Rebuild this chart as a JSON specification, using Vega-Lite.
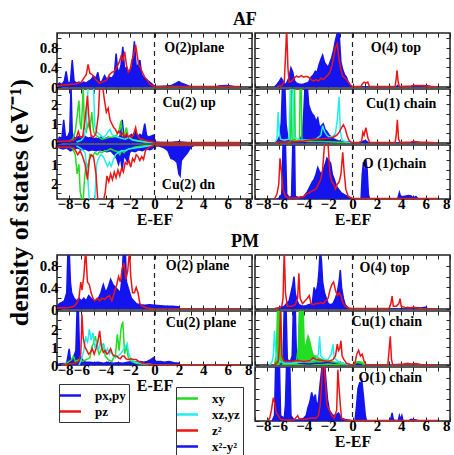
{
"$schema":"https://vega.github.io/schema/vega-lite/v6.json",
"background":"white",
"padding":{"left":6,"top":11,"right":0,"bottom":0},
"spacing":4,
"title":{"text":"density of states (eV⁻¹)","orient":"left","anchor":"middle","fontSize":26,"offset":6,"dx":32},
"config":{
 "font":"Liberation Serif",
 "view":{"stroke":"#222","strokeWidth":1.5},
 "axis":{"domain":false,"grid":false,"tickSize":-4,"tickColor":"#222","tickWidth":1,"labelFont":"Liberation Serif","labelFontWeight":"bold","labelFontSize":15,"labelColor":"black","labelOverlap":false,"titleFont":"Liberation Serif","titleFontWeight":"bold","titleFontSize":16,"titleColor":"black"},
 "axisX":{"labelPadding":1,"titlePadding":0},
 "axisY":{"labelPadding":3},
 "legend":{"labelFont":"Liberation Serif","labelFontWeight":"bold","labelFontSize":13,"labelColor":"black","symbolSize":196,"symbolStrokeWidth":2.5,"labelOffset":16,"rowPadding":0,"strokeColor":"#333","padding":3},
 "title":{"font":"Liberation Serif","fontWeight":"bold","color":"black"}
},
"resolve":{"scale":{"color":"independent"},"legend":{"color":"independent"}},
"datasets":{
"af_o2":[
{"E":-8,"dos":0.02,"orb":"px,py"},{"E":-7.8,"dos":0.08,"orb":"px,py"},{"E":-7.6,"dos":0.05,"orb":"px,py"},{"E":-7.4,"dos":0.12,"orb":"px,py"},{"E":-7.25,"dos":0.32,"orb":"px,py"},{"E":-7.1,"dos":0.08,"orb":"px,py"},{"E":-6.9,"dos":0.1,"orb":"px,py"},{"E":-6.75,"dos":0.55,"orb":"px,py"},{"E":-6.6,"dos":0.12,"orb":"px,py"},{"E":-6.4,"dos":0.08,"orb":"px,py"},{"E":-6.2,"dos":0.1,"orb":"px,py"},{"E":-6,"dos":0.07,"orb":"px,py"},{"E":-5.8,"dos":0.1,"orb":"px,py"},{"E":-5.6,"dos":0.08,"orb":"px,py"},{"E":-5.4,"dos":0.12,"orb":"px,py"},{"E":-5.2,"dos":0.15,"orb":"px,py"},{"E":-5,"dos":0.22,"orb":"px,py"},{"E":-4.8,"dos":0.18,"orb":"px,py"},{"E":-4.65,"dos":0.3,"orb":"px,py"},{"E":-4.5,"dos":0.1,"orb":"px,py"},{"E":-4.3,"dos":0.12,"orb":"px,py"},{"E":-4.1,"dos":0.23,"orb":"px,py"},{"E":-3.9,"dos":0.15,"orb":"px,py"},{"E":-3.7,"dos":0.2,"orb":"px,py"},{"E":-3.5,"dos":0.18,"orb":"px,py"},{"E":-3.3,"dos":0.25,"orb":"px,py"},{"E":-3.15,"dos":0.68,"orb":"px,py"},{"E":-3,"dos":0.3,"orb":"px,py"},{"E":-2.85,"dos":0.35,"orb":"px,py"},{"E":-2.75,"dos":0.45,"orb":"px,py"},{"E":-2.6,"dos":0.82,"orb":"px,py"},{"E":-2.45,"dos":0.35,"orb":"px,py"},{"E":-2.3,"dos":0.4,"orb":"px,py"},{"E":-2.15,"dos":0.3,"orb":"px,py"},{"E":-2,"dos":0.35,"orb":"px,py"},{"E":-1.85,"dos":0.4,"orb":"px,py"},{"E":-1.65,"dos":0.93,"orb":"px,py"},{"E":-1.5,"dos":0.4,"orb":"px,py"},{"E":-1.35,"dos":0.45,"orb":"px,py"},{"E":-1.2,"dos":0.55,"orb":"px,py"},{"E":-1.05,"dos":0.25,"orb":"px,py"},{"E":-0.9,"dos":0.2,"orb":"px,py"},{"E":-0.7,"dos":0.15,"orb":"px,py"},{"E":-0.5,"dos":0.12,"orb":"px,py"},{"E":-0.3,"dos":0.08,"orb":"px,py"},{"E":-0.1,"dos":0.04,"orb":"px,py"},{"E":0.1,"dos":0.01,"orb":"px,py"},{"E":0.5,"dos":0.01,"orb":"px,py"},{"E":1,"dos":0.02,"orb":"px,py"},{"E":1.4,"dos":0.03,"orb":"px,py"},{"E":1.7,"dos":0.07,"orb":"px,py"},{"E":2,"dos":0.11,"orb":"px,py"},{"E":2.2,"dos":0.08,"orb":"px,py"},{"E":2.5,"dos":0.05,"orb":"px,py"},{"E":2.8,"dos":0.02,"orb":"px,py"},{"E":3.2,"dos":0,"orb":"px,py"},{"E":5,"dos":0,"orb":"px,py"},{"E":5.3,"dos":0.02,"orb":"px,py"},{"E":5.8,"dos":0.03,"orb":"px,py"},{"E":6.3,"dos":0.02,"orb":"px,py"},{"E":6.6,"dos":0,"orb":"px,py"},
{"E":-8,"dos":0.02,"orb":"pz"},{"E":-7.5,"dos":0.04,"orb":"pz"},{"E":-7,"dos":0.05,"orb":"pz"},{"E":-6.5,"dos":0.06,"orb":"pz"},{"E":-6.2,"dos":0.08,"orb":"pz"},{"E":-6,"dos":0.1,"orb":"pz"},{"E":-5.8,"dos":0.18,"orb":"pz"},{"E":-5.6,"dos":0.25,"orb":"pz"},{"E":-5.45,"dos":0.46,"orb":"pz"},{"E":-5.3,"dos":0.28,"orb":"pz"},{"E":-5.1,"dos":0.25,"orb":"pz"},{"E":-4.9,"dos":0.18,"orb":"pz"},{"E":-4.7,"dos":0.12,"orb":"pz"},{"E":-4.5,"dos":0.08,"orb":"pz"},{"E":-4.3,"dos":0.1,"orb":"pz"},{"E":-4.1,"dos":0.12,"orb":"pz"},{"E":-3.9,"dos":0.15,"orb":"pz"},{"E":-3.7,"dos":0.25,"orb":"pz"},{"E":-3.5,"dos":0.3,"orb":"pz"},{"E":-3.3,"dos":0.32,"orb":"pz"},{"E":-3.1,"dos":0.4,"orb":"pz"},{"E":-2.9,"dos":0.5,"orb":"pz"},{"E":-2.75,"dos":0.62,"orb":"pz"},{"E":-2.6,"dos":0.55,"orb":"pz"},{"E":-2.45,"dos":0.72,"orb":"pz"},{"E":-2.3,"dos":0.45,"orb":"pz"},{"E":-2.15,"dos":0.3,"orb":"pz"},{"E":-2,"dos":0.35,"orb":"pz"},{"E":-1.85,"dos":0.55,"orb":"pz"},{"E":-1.7,"dos":0.65,"orb":"pz"},{"E":-1.55,"dos":0.86,"orb":"pz"},{"E":-1.45,"dos":0.7,"orb":"pz"},{"E":-1.3,"dos":0.45,"orb":"pz"},{"E":-1.15,"dos":0.4,"orb":"pz"},{"E":-1,"dos":0.3,"orb":"pz"},{"E":-0.8,"dos":0.2,"orb":"pz"},{"E":-0.6,"dos":0.15,"orb":"pz"},{"E":-0.4,"dos":0.06,"orb":"pz"},{"E":-0.2,"dos":0.03,"orb":"pz"},{"E":0,"dos":0.01,"orb":"pz"},{"E":7,"dos":0.01,"orb":"pz"}
],
"af_cu2up":[
{"E":-8,"dos":0.05,"orb":"x²-y²"},{"E":-7.8,"dos":0.3,"orb":"x²-y²"},{"E":-7.6,"dos":0.25,"orb":"x²-y²"},{"E":-7.45,"dos":1.2,"orb":"x²-y²"},{"E":-7.3,"dos":0.3,"orb":"x²-y²"},{"E":-7.1,"dos":0.35,"orb":"x²-y²"},{"E":-6.95,"dos":0.6,"orb":"x²-y²"},{"E":-6.85,"dos":3,"orb":"x²-y²"},{"E":-6.75,"dos":0.5,"orb":"x²-y²"},{"E":-6.6,"dos":0.3,"orb":"x²-y²"},{"E":-6.4,"dos":0.25,"orb":"x²-y²"},{"E":-6.2,"dos":0.35,"orb":"x²-y²"},{"E":-6,"dos":0.3,"orb":"x²-y²"},{"E":-5.8,"dos":0.4,"orb":"x²-y²"},{"E":-5.6,"dos":0.3,"orb":"x²-y²"},{"E":-5.4,"dos":0.25,"orb":"x²-y²"},{"E":-5.2,"dos":0.3,"orb":"x²-y²"},{"E":-5,"dos":0.2,"orb":"x²-y²"},{"E":-4.8,"dos":0.25,"orb":"x²-y²"},{"E":-4.6,"dos":0.2,"orb":"x²-y²"},{"E":-4.4,"dos":0.3,"orb":"x²-y²"},{"E":-4.2,"dos":0.2,"orb":"x²-y²"},{"E":-4,"dos":0.25,"orb":"x²-y²"},{"E":-3.8,"dos":0.3,"orb":"x²-y²"},{"E":-3.6,"dos":0.2,"orb":"x²-y²"},{"E":-3.4,"dos":0.3,"orb":"x²-y²"},{"E":-3.2,"dos":0.35,"orb":"x²-y²"},{"E":-3,"dos":0.25,"orb":"x²-y²"},{"E":-2.8,"dos":0.4,"orb":"x²-y²"},{"E":-2.65,"dos":1.2,"orb":"x²-y²"},{"E":-2.5,"dos":0.3,"orb":"x²-y²"},{"E":-2.3,"dos":0.4,"orb":"x²-y²"},{"E":-2.1,"dos":0.3,"orb":"x²-y²"},{"E":-1.9,"dos":0.45,"orb":"x²-y²"},{"E":-1.7,"dos":0.3,"orb":"x²-y²"},{"E":-1.55,"dos":0.6,"orb":"x²-y²"},{"E":-1.4,"dos":0.3,"orb":"x²-y²"},{"E":-1.2,"dos":0.45,"orb":"x²-y²"},{"E":-1,"dos":0.35,"orb":"x²-y²"},{"E":-0.8,"dos":1,"orb":"x²-y²"},{"E":-0.65,"dos":0.4,"orb":"x²-y²"},{"E":-0.5,"dos":0.3,"orb":"x²-y²"},{"E":-0.3,"dos":0.35,"orb":"x²-y²"},{"E":-0.1,"dos":0.4,"orb":"x²-y²"},{"E":0.05,"dos":0.05,"orb":"x²-y²"},{"E":0.5,"dos":0.02,"orb":"x²-y²"},{"E":1.5,"dos":0.04,"orb":"x²-y²"},{"E":2,"dos":0.06,"orb":"x²-y²"},{"E":2.5,"dos":0.03,"orb":"x²-y²"},{"E":3,"dos":0,"orb":"x²-y²"},
{"E":-7,"dos":0.1,"orb":"xy"},{"E":-6.7,"dos":0.2,"orb":"xy"},{"E":-6.5,"dos":0.6,"orb":"xy"},{"E":-6.35,"dos":1.4,"orb":"xy"},{"E":-6.2,"dos":2.2,"orb":"xy"},{"E":-6.1,"dos":1,"orb":"xy"},{"E":-6,"dos":0.7,"orb":"xy"},{"E":-5.85,"dos":2.9,"orb":"xy"},{"E":-5.75,"dos":0.8,"orb":"xy"},{"E":-5.6,"dos":0.6,"orb":"xy"},{"E":-5.45,"dos":1,"orb":"xy"},{"E":-5.3,"dos":0.7,"orb":"xy"},{"E":-5.15,"dos":1.6,"orb":"xy"},{"E":-5,"dos":0.6,"orb":"xy"},{"E":-4.8,"dos":0.4,"orb":"xy"},{"E":-4.6,"dos":0.3,"orb":"xy"},{"E":-4.3,"dos":0.2,"orb":"xy"},{"E":-4,"dos":0.25,"orb":"xy"},{"E":-3.7,"dos":0.3,"orb":"xy"},{"E":-3.4,"dos":0.3,"orb":"xy"},{"E":-3.1,"dos":0.4,"orb":"xy"},{"E":-2.9,"dos":0.7,"orb":"xy"},{"E":-2.75,"dos":1.15,"orb":"xy"},{"E":-2.6,"dos":0.4,"orb":"xy"},{"E":-2.45,"dos":0.5,"orb":"xy"},{"E":-2.3,"dos":0.8,"orb":"xy"},{"E":-2.15,"dos":0.3,"orb":"xy"},{"E":-1.9,"dos":0.2,"orb":"xy"},{"E":-1.6,"dos":0.15,"orb":"xy"},{"E":-1.2,"dos":0.1,"orb":"xy"},{"E":-0.6,"dos":0.05,"orb":"xy"},{"E":0,"dos":0,"orb":"xy"},
{"E":-6.4,"dos":0.05,"orb":"xz,yz"},{"E":-6,"dos":0.15,"orb":"xz,yz"},{"E":-5.8,"dos":0.3,"orb":"xz,yz"},{"E":-5.6,"dos":0.8,"orb":"xz,yz"},{"E":-5.45,"dos":2.9,"orb":"xz,yz"},{"E":-5.3,"dos":2.9,"orb":"xz,yz"},{"E":-5.15,"dos":2.9,"orb":"xz,yz"},{"E":-5,"dos":2.9,"orb":"xz,yz"},{"E":-4.9,"dos":0.9,"orb":"xz,yz"},{"E":-4.75,"dos":0.6,"orb":"xz,yz"},{"E":-4.6,"dos":0.5,"orb":"xz,yz"},{"E":-4.4,"dos":0.4,"orb":"xz,yz"},{"E":-4.2,"dos":0.3,"orb":"xz,yz"},{"E":-4,"dos":0.4,"orb":"xz,yz"},{"E":-3.8,"dos":0.6,"orb":"xz,yz"},{"E":-3.65,"dos":0.7,"orb":"xz,yz"},{"E":-3.5,"dos":0.45,"orb":"xz,yz"},{"E":-3.3,"dos":0.35,"orb":"xz,yz"},{"E":-3,"dos":0.3,"orb":"xz,yz"},{"E":-2.7,"dos":0.25,"orb":"xz,yz"},{"E":-2.4,"dos":0.2,"orb":"xz,yz"},{"E":-2.1,"dos":0.3,"orb":"xz,yz"},{"E":-1.8,"dos":0.15,"orb":"xz,yz"},{"E":-1.4,"dos":0.1,"orb":"xz,yz"},{"E":-0.8,"dos":0.05,"orb":"xz,yz"},{"E":0,"dos":0,"orb":"xz,yz"},
{"E":-8,"dos":0.08,"orb":"z²"},{"E":-7.5,"dos":0.1,"orb":"z²"},{"E":-7,"dos":0.1,"orb":"z²"},{"E":-6.6,"dos":0.15,"orb":"z²"},{"E":-6.4,"dos":0.3,"orb":"z²"},{"E":-6.25,"dos":0.6,"orb":"z²"},{"E":-6.1,"dos":0.3,"orb":"z²"},{"E":-5.9,"dos":0.3,"orb":"z²"},{"E":-5.7,"dos":1.2,"orb":"z²"},{"E":-5.5,"dos":2.45,"orb":"z²"},{"E":-5.35,"dos":1,"orb":"z²"},{"E":-5.2,"dos":0.4,"orb":"z²"},{"E":-5,"dos":0.3,"orb":"z²"},{"E":-4.8,"dos":0.5,"orb":"z²"},{"E":-4.6,"dos":1.5,"orb":"z²"},{"E":-4.5,"dos":2.9,"orb":"z²"},{"E":-4.35,"dos":2.9,"orb":"z²"},{"E":-4.25,"dos":2.9,"orb":"z²"},{"E":-4.1,"dos":2.2,"orb":"z²"},{"E":-3.95,"dos":1.6,"orb":"z²"},{"E":-3.8,"dos":1.8,"orb":"z²"},{"E":-3.65,"dos":1.2,"orb":"z²"},{"E":-3.5,"dos":1,"orb":"z²"},{"E":-3.35,"dos":0.8,"orb":"z²"},{"E":-3.2,"dos":0.7,"orb":"z²"},{"E":-3.05,"dos":0.5,"orb":"z²"},{"E":-2.9,"dos":0.6,"orb":"z²"},{"E":-2.75,"dos":0.4,"orb":"z²"},{"E":-2.6,"dos":0.5,"orb":"z²"},{"E":-2.45,"dos":0.3,"orb":"z²"},{"E":-2.3,"dos":0.5,"orb":"z²"},{"E":-2.15,"dos":0.3,"orb":"z²"},{"E":-2,"dos":0.4,"orb":"z²"},{"E":-1.85,"dos":0.3,"orb":"z²"},{"E":-1.7,"dos":0.5,"orb":"z²"},{"E":-1.55,"dos":0.8,"orb":"z²"},{"E":-1.45,"dos":0.5,"orb":"z²"},{"E":-1.3,"dos":0.3,"orb":"z²"},{"E":-1.15,"dos":0.2,"orb":"z²"},{"E":-1,"dos":0.2,"orb":"z²"},{"E":-0.8,"dos":0.15,"orb":"z²"},{"E":-0.6,"dos":0.1,"orb":"z²"},{"E":-0.3,"dos":0.08,"orb":"z²"},{"E":0,"dos":0.03,"orb":"z²"},{"E":7,"dos":0.02,"orb":"z²"}
],
"af_cu2dn":[
{"E":-8,"dos":0.05,"orb":"x²-y²"},{"E":-7.8,"dos":0.15,"orb":"x²-y²"},{"E":-7.5,"dos":0.2,"orb":"x²-y²"},{"E":-7.2,"dos":0.15,"orb":"x²-y²"},{"E":-6.9,"dos":0.3,"orb":"x²-y²"},{"E":-6.6,"dos":0.2,"orb":"x²-y²"},{"E":-6.3,"dos":0.15,"orb":"x²-y²"},{"E":-6,"dos":0.25,"orb":"x²-y²"},{"E":-5.7,"dos":0.2,"orb":"x²-y²"},{"E":-5.4,"dos":0.3,"orb":"x²-y²"},{"E":-5.1,"dos":0.25,"orb":"x²-y²"},{"E":-4.8,"dos":0.3,"orb":"x²-y²"},{"E":-4.5,"dos":0.25,"orb":"x²-y²"},{"E":-4.2,"dos":0.3,"orb":"x²-y²"},{"E":-3.9,"dos":0.35,"orb":"x²-y²"},{"E":-3.6,"dos":0.3,"orb":"x²-y²"},{"E":-3.3,"dos":0.5,"orb":"x²-y²"},{"E":-3.1,"dos":0.7,"orb":"x²-y²"},{"E":-2.95,"dos":1,"orb":"x²-y²"},{"E":-2.8,"dos":0.6,"orb":"x²-y²"},{"E":-2.65,"dos":1.25,"orb":"x²-y²"},{"E":-2.5,"dos":0.5,"orb":"x²-y²"},{"E":-2.35,"dos":0.7,"orb":"x²-y²"},{"E":-2.2,"dos":0.9,"orb":"x²-y²"},{"E":-2.05,"dos":0.4,"orb":"x²-y²"},{"E":-1.9,"dos":0.3,"orb":"x²-y²"},{"E":-1.6,"dos":0.35,"orb":"x²-y²"},{"E":-1.3,"dos":0.25,"orb":"x²-y²"},{"E":-1,"dos":0.3,"orb":"x²-y²"},{"E":-0.7,"dos":0.2,"orb":"x²-y²"},{"E":-0.4,"dos":0.25,"orb":"x²-y²"},{"E":-0.2,"dos":0.2,"orb":"x²-y²"},{"E":0,"dos":0.05,"orb":"x²-y²"},{"E":0.4,"dos":0.05,"orb":"x²-y²"},{"E":0.8,"dos":0.15,"orb":"x²-y²"},{"E":1.1,"dos":0.3,"orb":"x²-y²"},{"E":1.35,"dos":0.7,"orb":"x²-y²"},{"E":1.6,"dos":0.75,"orb":"x²-y²"},{"E":1.85,"dos":0.9,"orb":"x²-y²"},{"E":2,"dos":1.5,"orb":"x²-y²"},{"E":2.1,"dos":1.6,"orb":"x²-y²"},{"E":2.2,"dos":0.8,"orb":"x²-y²"},{"E":2.45,"dos":0.6,"orb":"x²-y²"},{"E":2.7,"dos":0.4,"orb":"x²-y²"},{"E":3,"dos":0.1,"orb":"x²-y²"},{"E":3.3,"dos":0,"orb":"x²-y²"},{"E":4.5,"dos":0,"orb":"x²-y²"},{"E":5,"dos":0.02,"orb":"x²-y²"},{"E":5.5,"dos":0.03,"orb":"x²-y²"},{"E":6,"dos":0.02,"orb":"x²-y²"},{"E":6.5,"dos":0,"orb":"x²-y²"},
{"E":-7,"dos":0.1,"orb":"xy"},{"E":-6.7,"dos":0.2,"orb":"xy"},{"E":-6.5,"dos":0.5,"orb":"xy"},{"E":-6.35,"dos":1.5,"orb":"xy"},{"E":-6.2,"dos":1,"orb":"xy"},{"E":-6.1,"dos":2.4,"orb":"xy"},{"E":-5.95,"dos":2.9,"orb":"xy"},{"E":-5.85,"dos":2.9,"orb":"xy"},{"E":-5.75,"dos":1.8,"orb":"xy"},{"E":-5.6,"dos":0.9,"orb":"xy"},{"E":-5.45,"dos":1.2,"orb":"xy"},{"E":-5.3,"dos":0.5,"orb":"xy"},{"E":-5.1,"dos":0.6,"orb":"xy"},{"E":-4.9,"dos":0.4,"orb":"xy"},{"E":-4.7,"dos":0.5,"orb":"xy"},{"E":-4.5,"dos":0.35,"orb":"xy"},{"E":-4.3,"dos":0.4,"orb":"xy"},{"E":-4.1,"dos":0.3,"orb":"xy"},{"E":-3.9,"dos":0.3,"orb":"xy"},{"E":-3.6,"dos":0.2,"orb":"xy"},{"E":-3.3,"dos":0.3,"orb":"xy"},{"E":-3,"dos":0.35,"orb":"xy"},{"E":-2.85,"dos":0.5,"orb":"xy"},{"E":-2.7,"dos":0.3,"orb":"xy"},{"E":-2.5,"dos":0.4,"orb":"xy"},{"E":-2.3,"dos":0.25,"orb":"xy"},{"E":-2,"dos":0.2,"orb":"xy"},{"E":-1.6,"dos":0.1,"orb":"xy"},{"E":-1,"dos":0.05,"orb":"xy"},{"E":0,"dos":0,"orb":"xy"},
{"E":-6.4,"dos":0.05,"orb":"xz,yz"},{"E":-6,"dos":0.2,"orb":"xz,yz"},{"E":-5.7,"dos":0.4,"orb":"xz,yz"},{"E":-5.5,"dos":1.5,"orb":"xz,yz"},{"E":-5.35,"dos":2.9,"orb":"xz,yz"},{"E":-5.2,"dos":2.9,"orb":"xz,yz"},{"E":-5.05,"dos":2.9,"orb":"xz,yz"},{"E":-4.9,"dos":2.9,"orb":"xz,yz"},{"E":-4.75,"dos":1,"orb":"xz,yz"},{"E":-4.6,"dos":0.7,"orb":"xz,yz"},{"E":-4.4,"dos":0.5,"orb":"xz,yz"},{"E":-4.2,"dos":0.6,"orb":"xz,yz"},{"E":-4,"dos":0.9,"orb":"xz,yz"},{"E":-3.85,"dos":1.1,"orb":"xz,yz"},{"E":-3.7,"dos":0.9,"orb":"xz,yz"},{"E":-3.55,"dos":1.1,"orb":"xz,yz"},{"E":-3.4,"dos":0.8,"orb":"xz,yz"},{"E":-3.2,"dos":0.5,"orb":"xz,yz"},{"E":-3,"dos":0.4,"orb":"xz,yz"},{"E":-2.7,"dos":0.3,"orb":"xz,yz"},{"E":-2.4,"dos":0.3,"orb":"xz,yz"},{"E":-2.1,"dos":0.2,"orb":"xz,yz"},{"E":-1.6,"dos":0.15,"orb":"xz,yz"},{"E":-1,"dos":0.1,"orb":"xz,yz"},{"E":0,"dos":0,"orb":"xz,yz"},
{"E":-8,"dos":0.1,"orb":"z²"},{"E":-7,"dos":0.12,"orb":"z²"},{"E":-6.6,"dos":0.15,"orb":"z²"},{"E":-6.3,"dos":0.5,"orb":"z²"},{"E":-6.1,"dos":0.3,"orb":"z²"},{"E":-5.9,"dos":0.6,"orb":"z²"},{"E":-5.7,"dos":1,"orb":"z²"},{"E":-5.5,"dos":1.8,"orb":"z²"},{"E":-5.35,"dos":0.8,"orb":"z²"},{"E":-5.2,"dos":0.5,"orb":"z²"},{"E":-5,"dos":0.6,"orb":"z²"},{"E":-4.8,"dos":1.5,"orb":"z²"},{"E":-4.65,"dos":2.9,"orb":"z²"},{"E":-4.5,"dos":2.9,"orb":"z²"},{"E":-4.35,"dos":2.9,"orb":"z²"},{"E":-4.2,"dos":2.9,"orb":"z²"},{"E":-4.05,"dos":2.5,"orb":"z²"},{"E":-3.9,"dos":1.6,"orb":"z²"},{"E":-3.75,"dos":1.9,"orb":"z²"},{"E":-3.6,"dos":1.5,"orb":"z²"},{"E":-3.45,"dos":1.8,"orb":"z²"},{"E":-3.3,"dos":1.4,"orb":"z²"},{"E":-3.15,"dos":1.7,"orb":"z²"},{"E":-3,"dos":1.3,"orb":"z²"},{"E":-2.85,"dos":1.6,"orb":"z²"},{"E":-2.7,"dos":1.2,"orb":"z²"},{"E":-2.55,"dos":1.4,"orb":"z²"},{"E":-2.4,"dos":0.9,"orb":"z²"},{"E":-2.25,"dos":1,"orb":"z²"},{"E":-2.1,"dos":0.8,"orb":"z²"},{"E":-1.95,"dos":1.15,"orb":"z²"},{"E":-1.8,"dos":0.7,"orb":"z²"},{"E":-1.65,"dos":0.85,"orb":"z²"},{"E":-1.5,"dos":0.5,"orb":"z²"},{"E":-1.35,"dos":0.6,"orb":"z²"},{"E":-1.2,"dos":0.8,"orb":"z²"},{"E":-1.05,"dos":0.6,"orb":"z²"},{"E":-0.9,"dos":0.75,"orb":"z²"},{"E":-0.75,"dos":0.3,"orb":"z²"},{"E":-0.6,"dos":0.2,"orb":"z²"},{"E":-0.4,"dos":0.1,"orb":"z²"},{"E":0,"dos":0.02,"orb":"z²"},{"E":7,"dos":0.02,"orb":"z²"}
],
"af_o4":[
{"E":-6.4,"dos":0,"orb":"px,py"},{"E":-6.2,"dos":0.05,"orb":"px,py"},{"E":-6,"dos":0.12,"orb":"px,py"},{"E":-5.85,"dos":0.18,"orb":"px,py"},{"E":-5.7,"dos":0.12,"orb":"px,py"},{"E":-5.55,"dos":0.05,"orb":"px,py"},{"E":-5.4,"dos":0.08,"orb":"px,py"},{"E":-5.2,"dos":0.2,"orb":"px,py"},{"E":-5.05,"dos":0.39,"orb":"px,py"},{"E":-4.9,"dos":0.3,"orb":"px,py"},{"E":-4.75,"dos":0.12,"orb":"px,py"},{"E":-4.6,"dos":0.08,"orb":"px,py"},{"E":-4.4,"dos":0.06,"orb":"px,py"},{"E":-4.2,"dos":0.05,"orb":"px,py"},{"E":-4,"dos":0.06,"orb":"px,py"},{"E":-3.8,"dos":0.08,"orb":"px,py"},{"E":-3.6,"dos":0.1,"orb":"px,py"},{"E":-3.4,"dos":0.2,"orb":"px,py"},{"E":-3.2,"dos":0.25,"orb":"px,py"},{"E":-3.05,"dos":0.32,"orb":"px,py"},{"E":-2.9,"dos":0.3,"orb":"px,py"},{"E":-2.75,"dos":0.45,"orb":"px,py"},{"E":-2.6,"dos":0.56,"orb":"px,py"},{"E":-2.45,"dos":0.65,"orb":"px,py"},{"E":-2.3,"dos":0.5,"orb":"px,py"},{"E":-2.15,"dos":0.45,"orb":"px,py"},{"E":-2,"dos":0.4,"orb":"px,py"},{"E":-1.85,"dos":0.5,"orb":"px,py"},{"E":-1.7,"dos":0.6,"orb":"px,py"},{"E":-1.55,"dos":0.75,"orb":"px,py"},{"E":-1.4,"dos":0.95,"orb":"px,py"},{"E":-1.25,"dos":1.1,"orb":"px,py"},{"E":-1.1,"dos":1.1,"orb":"px,py"},{"E":-0.95,"dos":0.5,"orb":"px,py"},{"E":-0.8,"dos":0.35,"orb":"px,py"},{"E":-0.65,"dos":0.25,"orb":"px,py"},{"E":-0.5,"dos":0.2,"orb":"px,py"},{"E":-0.35,"dos":0.1,"orb":"px,py"},{"E":-0.2,"dos":0.04,"orb":"px,py"},{"E":0,"dos":0,"orb":"px,py"},{"E":3.6,"dos":0,"orb":"px,py"},{"E":3.7,"dos":0.03,"orb":"px,py"},{"E":3.8,"dos":0,"orb":"px,py"},{"E":4.8,"dos":0,"orb":"px,py"},{"E":5,"dos":0.03,"orb":"px,py"},{"E":5.3,"dos":0.02,"orb":"px,py"},{"E":5.8,"dos":0.03,"orb":"px,py"},{"E":6.2,"dos":0.02,"orb":"px,py"},{"E":6.5,"dos":0,"orb":"px,py"},
{"E":-6.2,"dos":0.01,"orb":"pz"},{"E":-5.8,"dos":0.03,"orb":"pz"},{"E":-5.6,"dos":0.1,"orb":"pz"},{"E":-5.5,"dos":0.6,"orb":"pz"},{"E":-5.4,"dos":1.2,"orb":"pz"},{"E":-5.3,"dos":0.4,"orb":"pz"},{"E":-5.2,"dos":0.1,"orb":"pz"},{"E":-5,"dos":0.12,"orb":"pz"},{"E":-4.8,"dos":0.18,"orb":"pz"},{"E":-4.6,"dos":0.22,"orb":"pz"},{"E":-4.4,"dos":0.2,"orb":"pz"},{"E":-4.2,"dos":0.23,"orb":"pz"},{"E":-4,"dos":0.2,"orb":"pz"},{"E":-3.8,"dos":0.22,"orb":"pz"},{"E":-3.6,"dos":0.2,"orb":"pz"},{"E":-3.4,"dos":0.15,"orb":"pz"},{"E":-3.2,"dos":0.12,"orb":"pz"},{"E":-3,"dos":0.15,"orb":"pz"},{"E":-2.8,"dos":0.12,"orb":"pz"},{"E":-2.6,"dos":0.18,"orb":"pz"},{"E":-2.4,"dos":0.15,"orb":"pz"},{"E":-2.2,"dos":0.2,"orb":"pz"},{"E":-2,"dos":0.25,"orb":"pz"},{"E":-1.85,"dos":0.3,"orb":"pz"},{"E":-1.7,"dos":0.42,"orb":"pz"},{"E":-1.55,"dos":0.6,"orb":"pz"},{"E":-1.4,"dos":0.8,"orb":"pz"},{"E":-1.25,"dos":0.88,"orb":"pz"},{"E":-1.1,"dos":0.55,"orb":"pz"},{"E":-0.95,"dos":0.35,"orb":"pz"},{"E":-0.8,"dos":0.22,"orb":"pz"},{"E":-0.6,"dos":0.18,"orb":"pz"},{"E":-0.4,"dos":0.12,"orb":"pz"},{"E":-0.2,"dos":0.05,"orb":"pz"},{"E":0,"dos":0.01,"orb":"pz"},{"E":0.7,"dos":0.01,"orb":"pz"},{"E":0.8,"dos":0.06,"orb":"pz"},{"E":0.95,"dos":0.1,"orb":"pz"},{"E":1.1,"dos":0.08,"orb":"pz"},{"E":1.25,"dos":0.1,"orb":"pz"},{"E":1.4,"dos":0.01,"orb":"pz"},{"E":3.5,"dos":0.01,"orb":"pz"},{"E":3.6,"dos":0.2,"orb":"pz"},{"E":3.65,"dos":0.34,"orb":"pz"},{"E":3.75,"dos":0.1,"orb":"pz"},{"E":3.85,"dos":0.01,"orb":"pz"},{"E":4.8,"dos":0.02,"orb":"pz"},{"E":5,"dos":0.03,"orb":"pz"},{"E":5.5,"dos":0.03,"orb":"pz"},{"E":6,"dos":0.02,"orb":"pz"},{"E":6.5,"dos":0.01,"orb":"pz"},{"E":7,"dos":0,"orb":"pz"}
],
"af_cu1":[
{"E":-6.4,"dos":0,"orb":"x²-y²"},{"E":-6.2,"dos":0.1,"orb":"x²-y²"},{"E":-6,"dos":0.3,"orb":"x²-y²"},{"E":-5.85,"dos":1,"orb":"x²-y²"},{"E":-5.75,"dos":2.9,"orb":"x²-y²"},{"E":-5.55,"dos":2.9,"orb":"x²-y²"},{"E":-5.45,"dos":1,"orb":"x²-y²"},{"E":-5.3,"dos":0.2,"orb":"x²-y²"},{"E":-5,"dos":0.1,"orb":"x²-y²"},{"E":-4.6,"dos":0.1,"orb":"x²-y²"},{"E":-4.3,"dos":0.15,"orb":"x²-y²"},{"E":-4.1,"dos":0.5,"orb":"x²-y²"},{"E":-4,"dos":1.5,"orb":"x²-y²"},{"E":-3.9,"dos":2.9,"orb":"x²-y²"},{"E":-3.7,"dos":2.9,"orb":"x²-y²"},{"E":-3.6,"dos":2,"orb":"x²-y²"},{"E":-3.45,"dos":1.7,"orb":"x²-y²"},{"E":-3.3,"dos":1.5,"orb":"x²-y²"},{"E":-3.15,"dos":1.4,"orb":"x²-y²"},{"E":-3,"dos":1.1,"orb":"x²-y²"},{"E":-2.85,"dos":1.3,"orb":"x²-y²"},{"E":-2.7,"dos":0.8,"orb":"x²-y²"},{"E":-2.55,"dos":0.9,"orb":"x²-y²"},{"E":-2.4,"dos":1,"orb":"x²-y²"},{"E":-2.25,"dos":0.7,"orb":"x²-y²"},{"E":-2.1,"dos":0.6,"orb":"x²-y²"},{"E":-1.9,"dos":0.4,"orb":"x²-y²"},{"E":-1.7,"dos":0.3,"orb":"x²-y²"},{"E":-1.5,"dos":0.2,"orb":"x²-y²"},{"E":-1.2,"dos":0.12,"orb":"x²-y²"},{"E":-0.9,"dos":0.08,"orb":"x²-y²"},{"E":-0.5,"dos":0.05,"orb":"x²-y²"},{"E":-0.2,"dos":0.05,"orb":"x²-y²"},{"E":0,"dos":0,"orb":"x²-y²"},{"E":0.7,"dos":0,"orb":"x²-y²"},{"E":0.85,"dos":0.08,"orb":"x²-y²"},{"E":1,"dos":0.12,"orb":"x²-y²"},{"E":1.15,"dos":0.1,"orb":"x²-y²"},{"E":1.3,"dos":0,"orb":"x²-y²"},{"E":4.9,"dos":0,"orb":"x²-y²"},{"E":5,"dos":0.06,"orb":"x²-y²"},{"E":5.1,"dos":0,"orb":"x²-y²"},
{"E":-5.3,"dos":0,"orb":"xy"},{"E":-5.1,"dos":0.1,"orb":"xy"},{"E":-5.02,"dos":2.9,"orb":"xy"},{"E":-4.95,"dos":0.15,"orb":"xy"},{"E":-4.8,"dos":0.15,"orb":"xy"},{"E":-4.75,"dos":2.9,"orb":"xy"},{"E":-4.7,"dos":0.15,"orb":"xy"},{"E":-4.35,"dos":0.1,"orb":"xy"},{"E":-4.3,"dos":2.9,"orb":"xy"},{"E":-4.2,"dos":2.9,"orb":"xy"},{"E":-4.15,"dos":0.1,"orb":"xy"},{"E":-3.5,"dos":0.08,"orb":"xy"},{"E":-2.5,"dos":0.08,"orb":"xy"},{"E":-1.5,"dos":0.05,"orb":"xy"},{"E":-0.5,"dos":0.02,"orb":"xy"},{"E":0,"dos":0,"orb":"xy"},
{"E":-6.4,"dos":0,"orb":"xz,yz"},{"E":-6.2,"dos":0.2,"orb":"xz,yz"},{"E":-6.1,"dos":1.6,"orb":"xz,yz"},{"E":-6,"dos":0.5,"orb":"xz,yz"},{"E":-5.9,"dos":0.2,"orb":"xz,yz"},{"E":-5.6,"dos":0.15,"orb":"xz,yz"},{"E":-5.2,"dos":0.2,"orb":"xz,yz"},{"E":-5.1,"dos":2.9,"orb":"xz,yz"},{"E":-4.9,"dos":2.9,"orb":"xz,yz"},{"E":-4.8,"dos":0.3,"orb":"xz,yz"},{"E":-4.5,"dos":0.2,"orb":"xz,yz"},{"E":-4.2,"dos":0.15,"orb":"xz,yz"},{"E":-3.5,"dos":0.15,"orb":"xz,yz"},{"E":-3,"dos":0.2,"orb":"xz,yz"},{"E":-2.6,"dos":0.4,"orb":"xz,yz"},{"E":-2.45,"dos":0.9,"orb":"xz,yz"},{"E":-2.3,"dos":0.6,"orb":"xz,yz"},{"E":-2.1,"dos":0.4,"orb":"xz,yz"},{"E":-1.9,"dos":0.3,"orb":"xz,yz"},{"E":-1.6,"dos":0.35,"orb":"xz,yz"},{"E":-1.4,"dos":0.5,"orb":"xz,yz"},{"E":-1.25,"dos":1.2,"orb":"xz,yz"},{"E":-1.1,"dos":2.4,"orb":"xz,yz"},{"E":-1,"dos":0.6,"orb":"xz,yz"},{"E":-0.85,"dos":0.15,"orb":"xz,yz"},{"E":-0.5,"dos":0.05,"orb":"xz,yz"},{"E":0,"dos":0,"orb":"xz,yz"},
{"E":-6.4,"dos":0,"orb":"z²"},{"E":-6,"dos":0.05,"orb":"z²"},{"E":-5,"dos":0.05,"orb":"z²"},{"E":-4,"dos":0.1,"orb":"z²"},{"E":-3.5,"dos":0.15,"orb":"z²"},{"E":-3,"dos":0.2,"orb":"z²"},{"E":-2.5,"dos":0.22,"orb":"z²"},{"E":-2,"dos":0.25,"orb":"z²"},{"E":-1.6,"dos":0.3,"orb":"z²"},{"E":-1.3,"dos":0.4,"orb":"z²"},{"E":-1.1,"dos":0.55,"orb":"z²"},{"E":-0.9,"dos":0.8,"orb":"z²"},{"E":-0.75,"dos":0.95,"orb":"z²"},{"E":-0.6,"dos":0.75,"orb":"z²"},{"E":-0.45,"dos":0.4,"orb":"z²"},{"E":-0.3,"dos":0.15,"orb":"z²"},{"E":-0.1,"dos":0.03,"orb":"z²"},{"E":0.5,"dos":0.02,"orb":"z²"},{"E":0.75,"dos":0.1,"orb":"z²"},{"E":0.85,"dos":0.55,"orb":"z²"},{"E":0.95,"dos":0.4,"orb":"z²"},{"E":1.1,"dos":0.8,"orb":"z²"},{"E":1.25,"dos":0.3,"orb":"z²"},{"E":1.4,"dos":0.03,"orb":"z²"},{"E":3.5,"dos":0.02,"orb":"z²"},{"E":3.6,"dos":0.5,"orb":"z²"},{"E":3.68,"dos":1.2,"orb":"z²"},{"E":3.78,"dos":0.2,"orb":"z²"},{"E":3.9,"dos":0.02,"orb":"z²"},{"E":4.8,"dos":0.05,"orb":"z²"},{"E":5,"dos":0.08,"orb":"z²"},{"E":5.5,"dos":0.05,"orb":"z²"},{"E":6,"dos":0.04,"orb":"z²"},{"E":6.5,"dos":0.02,"orb":"z²"},{"E":7,"dos":0,"orb":"z²"}
],
"af_o1":[
{"E":-6.2,"dos":0,"orb":"px,py"},{"E":-6,"dos":0.02,"orb":"px,py"},{"E":-5.8,"dos":0.1,"orb":"px,py"},{"E":-5.7,"dos":1.1,"orb":"px,py"},{"E":-5.5,"dos":1.1,"orb":"px,py"},{"E":-5.4,"dos":0.1,"orb":"px,py"},{"E":-5.2,"dos":0.03,"orb":"px,py"},{"E":-5,"dos":0.05,"orb":"px,py"},{"E":-4.9,"dos":1.1,"orb":"px,py"},{"E":-4.75,"dos":1.1,"orb":"px,py"},{"E":-4.7,"dos":0.05,"orb":"px,py"},{"E":-4.4,"dos":0.03,"orb":"px,py"},{"E":-4,"dos":0.05,"orb":"px,py"},{"E":-3.7,"dos":0.15,"orb":"px,py"},{"E":-3.5,"dos":0.25,"orb":"px,py"},{"E":-3.3,"dos":0.35,"orb":"px,py"},{"E":-3.15,"dos":0.4,"orb":"px,py"},{"E":-3,"dos":0.5,"orb":"px,py"},{"E":-2.85,"dos":0.64,"orb":"px,py"},{"E":-2.7,"dos":0.55,"orb":"px,py"},{"E":-2.55,"dos":0.5,"orb":"px,py"},{"E":-2.4,"dos":0.6,"orb":"px,py"},{"E":-2.25,"dos":0.7,"orb":"px,py"},{"E":-2.1,"dos":0.83,"orb":"px,py"},{"E":-1.95,"dos":0.78,"orb":"px,py"},{"E":-1.8,"dos":0.73,"orb":"px,py"},{"E":-1.65,"dos":0.5,"orb":"px,py"},{"E":-1.5,"dos":0.4,"orb":"px,py"},{"E":-1.3,"dos":0.25,"orb":"px,py"},{"E":-1.15,"dos":0.2,"orb":"px,py"},{"E":-0.9,"dos":0.12,"orb":"px,py"},{"E":-0.6,"dos":0.08,"orb":"px,py"},{"E":-0.3,"dos":0.04,"orb":"px,py"},{"E":0,"dos":0,"orb":"px,py"},{"E":0.7,"dos":0,"orb":"px,py"},{"E":0.8,"dos":0.5,"orb":"px,py"},{"E":0.9,"dos":0.75,"orb":"px,py"},{"E":1,"dos":0.3,"orb":"px,py"},{"E":1.1,"dos":0.79,"orb":"px,py"},{"E":1.2,"dos":0.6,"orb":"px,py"},{"E":1.3,"dos":0.1,"orb":"px,py"},{"E":1.4,"dos":0,"orb":"px,py"},{"E":3.7,"dos":0,"orb":"px,py"},{"E":3.85,"dos":0.13,"orb":"px,py"},{"E":3.95,"dos":0.04,"orb":"px,py"},{"E":4.6,"dos":0.07,"orb":"px,py"},{"E":4.8,"dos":0.06,"orb":"px,py"},{"E":5,"dos":0.02,"orb":"px,py"},{"E":5.2,"dos":0.05,"orb":"px,py"},{"E":5.4,"dos":0,"orb":"px,py"},
{"E":-6.4,"dos":0,"orb":"pz"},{"E":-6.2,"dos":0.1,"orb":"pz"},{"E":-6.05,"dos":0.3,"orb":"pz"},{"E":-5.95,"dos":0.83,"orb":"pz"},{"E":-5.85,"dos":0.6,"orb":"pz"},{"E":-5.7,"dos":0.2,"orb":"pz"},{"E":-5.5,"dos":0.05,"orb":"pz"},{"E":-5.2,"dos":0.02,"orb":"pz"},{"E":-4.5,"dos":0.02,"orb":"pz"},{"E":-4,"dos":0.05,"orb":"pz"},{"E":-3.8,"dos":0.1,"orb":"pz"},{"E":-3.6,"dos":0.12,"orb":"pz"},{"E":-3.4,"dos":0.15,"orb":"pz"},{"E":-3.2,"dos":0.18,"orb":"pz"},{"E":-3,"dos":0.2,"orb":"pz"},{"E":-2.8,"dos":0.3,"orb":"pz"},{"E":-2.6,"dos":0.4,"orb":"pz"},{"E":-2.45,"dos":0.6,"orb":"pz"},{"E":-2.3,"dos":1.1,"orb":"pz"},{"E":-2.15,"dos":1.1,"orb":"pz"},{"E":-2,"dos":1.1,"orb":"pz"},{"E":-1.85,"dos":0.5,"orb":"pz"},{"E":-1.7,"dos":0.35,"orb":"pz"},{"E":-1.55,"dos":0.3,"orb":"pz"},{"E":-1.4,"dos":0.2,"orb":"pz"},{"E":-1.25,"dos":0.3,"orb":"pz"},{"E":-1.1,"dos":0.35,"orb":"pz"},{"E":-0.95,"dos":0.5,"orb":"pz"},{"E":-0.8,"dos":0.95,"orb":"pz"},{"E":-0.7,"dos":0.6,"orb":"pz"},{"E":-0.55,"dos":0.2,"orb":"pz"},{"E":-0.35,"dos":0.05,"orb":"pz"},{"E":0,"dos":0.01,"orb":"pz"},{"E":7,"dos":0.01,"orb":"pz"}
],
"pm_o2":[
{"E":-8,"dos":0.05,"orb":"px,py"},{"E":-7.8,"dos":0.1,"orb":"px,py"},{"E":-7.6,"dos":0.12,"orb":"px,py"},{"E":-7.4,"dos":0.15,"orb":"px,py"},{"E":-7.2,"dos":0.3,"orb":"px,py"},{"E":-7.1,"dos":1.1,"orb":"px,py"},{"E":-7,"dos":1.1,"orb":"px,py"},{"E":-6.9,"dos":0.5,"orb":"px,py"},{"E":-6.8,"dos":0.3,"orb":"px,py"},{"E":-6.6,"dos":0.2,"orb":"px,py"},{"E":-6.4,"dos":0.15,"orb":"px,py"},{"E":-6.2,"dos":0.2,"orb":"px,py"},{"E":-6,"dos":0.15,"orb":"px,py"},{"E":-5.8,"dos":0.2,"orb":"px,py"},{"E":-5.6,"dos":0.15,"orb":"px,py"},{"E":-5.4,"dos":0.25,"orb":"px,py"},{"E":-5.2,"dos":0.2,"orb":"px,py"},{"E":-5,"dos":0.15,"orb":"px,py"},{"E":-4.8,"dos":0.15,"orb":"px,py"},{"E":-4.6,"dos":0.2,"orb":"px,py"},{"E":-4.4,"dos":0.3,"orb":"px,py"},{"E":-4.2,"dos":0.45,"orb":"px,py"},{"E":-4,"dos":0.3,"orb":"px,py"},{"E":-3.8,"dos":0.4,"orb":"px,py"},{"E":-3.6,"dos":0.55,"orb":"px,py"},{"E":-3.4,"dos":0.45,"orb":"px,py"},{"E":-3.2,"dos":0.4,"orb":"px,py"},{"E":-3,"dos":0.35,"orb":"px,py"},{"E":-2.8,"dos":0.3,"orb":"px,py"},{"E":-2.65,"dos":0.6,"orb":"px,py"},{"E":-2.55,"dos":1.1,"orb":"px,py"},{"E":-2.4,"dos":1.1,"orb":"px,py"},{"E":-2.3,"dos":0.5,"orb":"px,py"},{"E":-2.1,"dos":0.35,"orb":"px,py"},{"E":-1.9,"dos":0.2,"orb":"px,py"},{"E":-1.7,"dos":0.15,"orb":"px,py"},{"E":-1.5,"dos":0.1,"orb":"px,py"},{"E":-1.2,"dos":0.08,"orb":"px,py"},{"E":-0.8,"dos":0.07,"orb":"px,py"},{"E":-0.4,"dos":0.08,"orb":"px,py"},{"E":0,"dos":0.07,"orb":"px,py"},{"E":0.5,"dos":0.06,"orb":"px,py"},{"E":1,"dos":0.05,"orb":"px,py"},{"E":1.5,"dos":0.05,"orb":"px,py"},{"E":2,"dos":0.04,"orb":"px,py"},{"E":2.05,"dos":0,"orb":"px,py"},
{"E":-8,"dos":0.02,"orb":"pz"},{"E":-7,"dos":0.03,"orb":"pz"},{"E":-6.6,"dos":0.05,"orb":"pz"},{"E":-6.4,"dos":0.1,"orb":"pz"},{"E":-6.2,"dos":0.2,"orb":"pz"},{"E":-6.05,"dos":0.5,"orb":"pz"},{"E":-5.95,"dos":0.35,"orb":"pz"},{"E":-5.8,"dos":0.6,"orb":"pz"},{"E":-5.65,"dos":1.1,"orb":"pz"},{"E":-5.5,"dos":0.5,"orb":"pz"},{"E":-5.35,"dos":0.45,"orb":"pz"},{"E":-5.2,"dos":0.3,"orb":"pz"},{"E":-5.05,"dos":0.2,"orb":"pz"},{"E":-4.9,"dos":0.15,"orb":"pz"},{"E":-4.7,"dos":0.2,"orb":"pz"},{"E":-4.5,"dos":0.15,"orb":"pz"},{"E":-4.3,"dos":0.2,"orb":"pz"},{"E":-4.1,"dos":0.18,"orb":"pz"},{"E":-3.9,"dos":0.22,"orb":"pz"},{"E":-3.7,"dos":0.25,"orb":"pz"},{"E":-3.5,"dos":0.15,"orb":"pz"},{"E":-3.3,"dos":0.3,"orb":"pz"},{"E":-3.1,"dos":0.45,"orb":"pz"},{"E":-2.95,"dos":0.6,"orb":"pz"},{"E":-2.8,"dos":0.5,"orb":"pz"},{"E":-2.65,"dos":0.75,"orb":"pz"},{"E":-2.5,"dos":0.85,"orb":"pz"},{"E":-2.35,"dos":0.55,"orb":"pz"},{"E":-2.2,"dos":0.7,"orb":"pz"},{"E":-2.05,"dos":1.1,"orb":"pz"},{"E":-1.95,"dos":0.6,"orb":"pz"},{"E":-1.8,"dos":0.3,"orb":"pz"},{"E":-1.65,"dos":0.3,"orb":"pz"},{"E":-1.5,"dos":0.4,"orb":"pz"},{"E":-1.35,"dos":0.3,"orb":"pz"},{"E":-1.2,"dos":0.1,"orb":"pz"},{"E":-1,"dos":0.05,"orb":"pz"},{"E":-0.6,"dos":0.02,"orb":"pz"},{"E":0,"dos":0,"orb":"pz"},{"E":7,"dos":0,"orb":"pz"}
],
"pm_cu2":[
{"E":-8,"dos":0.02,"orb":"x²-y²"},{"E":-7.8,"dos":0.05,"orb":"x²-y²"},{"E":-7.5,"dos":0.08,"orb":"x²-y²"},{"E":-7.2,"dos":0.1,"orb":"x²-y²"},{"E":-7,"dos":0.9,"orb":"x²-y²"},{"E":-6.9,"dos":0.3,"orb":"x²-y²"},{"E":-6.75,"dos":0.3,"orb":"x²-y²"},{"E":-6.6,"dos":0.5,"orb":"x²-y²"},{"E":-6.45,"dos":0.8,"orb":"x²-y²"},{"E":-6.35,"dos":3.2,"orb":"x²-y²"},{"E":-6.25,"dos":3.2,"orb":"x²-y²"},{"E":-6.15,"dos":0.6,"orb":"x²-y²"},{"E":-6,"dos":0.4,"orb":"x²-y²"},{"E":-5.8,"dos":0.2,"orb":"x²-y²"},{"E":-5.6,"dos":0.15,"orb":"x²-y²"},{"E":-5.3,"dos":0.15,"orb":"x²-y²"},{"E":-5,"dos":0.12,"orb":"x²-y²"},{"E":-4.6,"dos":0.15,"orb":"x²-y²"},{"E":-4.2,"dos":0.1,"orb":"x²-y²"},{"E":-3.8,"dos":0.15,"orb":"x²-y²"},{"E":-3.4,"dos":0.1,"orb":"x²-y²"},{"E":-3,"dos":0.12,"orb":"x²-y²"},{"E":-2.6,"dos":0.1,"orb":"x²-y²"},{"E":-2.2,"dos":0.15,"orb":"x²-y²"},{"E":-1.8,"dos":0.2,"orb":"x²-y²"},{"E":-1.5,"dos":0.15,"orb":"x²-y²"},{"E":-1.2,"dos":0.2,"orb":"x²-y²"},{"E":-0.9,"dos":0.15,"orb":"x²-y²"},{"E":-0.6,"dos":0.2,"orb":"x²-y²"},{"E":-0.3,"dos":0.3,"orb":"x²-y²"},{"E":-0.1,"dos":0.4,"orb":"x²-y²"},{"E":0.1,"dos":0.2,"orb":"x²-y²"},{"E":0.5,"dos":0.2,"orb":"x²-y²"},{"E":0.8,"dos":0.15,"orb":"x²-y²"},{"E":1.2,"dos":0.2,"orb":"x²-y²"},{"E":1.6,"dos":0.12,"orb":"x²-y²"},{"E":2,"dos":0.1,"orb":"x²-y²"},{"E":2.05,"dos":0,"orb":"x²-y²"},
{"E":-7.6,"dos":0,"orb":"xy"},{"E":-7.2,"dos":0.1,"orb":"xy"},{"E":-7,"dos":0.2,"orb":"xy"},{"E":-6.8,"dos":0.3,"orb":"xy"},{"E":-6.65,"dos":0.5,"orb":"xy"},{"E":-6.5,"dos":0.2,"orb":"xy"},{"E":-6.2,"dos":0.3,"orb":"xy"},{"E":-5.9,"dos":0.2,"orb":"xy"},{"E":-5.6,"dos":0.3,"orb":"xy"},{"E":-5.3,"dos":0.4,"orb":"xy"},{"E":-5.15,"dos":1,"orb":"xy"},{"E":-5,"dos":1.2,"orb":"xy"},{"E":-4.85,"dos":1.6,"orb":"xy"},{"E":-4.7,"dos":1,"orb":"xy"},{"E":-4.55,"dos":0.6,"orb":"xy"},{"E":-4.4,"dos":0.8,"orb":"xy"},{"E":-4.2,"dos":1.2,"orb":"xy"},{"E":-4.05,"dos":0.5,"orb":"xy"},{"E":-3.8,"dos":0.3,"orb":"xy"},{"E":-3.5,"dos":0.2,"orb":"xy"},{"E":-3.2,"dos":0.6,"orb":"xy"},{"E":-3.05,"dos":1.7,"orb":"xy"},{"E":-2.9,"dos":0.8,"orb":"xy"},{"E":-2.75,"dos":2,"orb":"xy"},{"E":-2.6,"dos":2.4,"orb":"xy"},{"E":-2.45,"dos":0.6,"orb":"xy"},{"E":-2.3,"dos":1.1,"orb":"xy"},{"E":-2.15,"dos":0.4,"orb":"xy"},{"E":-1.9,"dos":0.2,"orb":"xy"},{"E":-1.5,"dos":0.1,"orb":"xy"},{"E":-1,"dos":0.05,"orb":"xy"},{"E":0,"dos":0,"orb":"xy"},
{"E":-6.2,"dos":0,"orb":"xz,yz"},{"E":-6,"dos":0.3,"orb":"xz,yz"},{"E":-5.8,"dos":0.8,"orb":"xz,yz"},{"E":-5.65,"dos":1.6,"orb":"xz,yz"},{"E":-5.5,"dos":1.2,"orb":"xz,yz"},{"E":-5.35,"dos":2,"orb":"xz,yz"},{"E":-5.2,"dos":1.4,"orb":"xz,yz"},{"E":-5.05,"dos":1.8,"orb":"xz,yz"},{"E":-4.9,"dos":1,"orb":"xz,yz"},{"E":-4.75,"dos":1.2,"orb":"xz,yz"},{"E":-4.6,"dos":0.8,"orb":"xz,yz"},{"E":-4.45,"dos":1.3,"orb":"xz,yz"},{"E":-4.3,"dos":1,"orb":"xz,yz"},{"E":-4.15,"dos":1.1,"orb":"xz,yz"},{"E":-4,"dos":0.7,"orb":"xz,yz"},{"E":-3.85,"dos":0.9,"orb":"xz,yz"},{"E":-3.7,"dos":0.6,"orb":"xz,yz"},{"E":-3.55,"dos":0.8,"orb":"xz,yz"},{"E":-3.4,"dos":0.5,"orb":"xz,yz"},{"E":-3.2,"dos":0.4,"orb":"xz,yz"},{"E":-3,"dos":0.5,"orb":"xz,yz"},{"E":-2.8,"dos":0.6,"orb":"xz,yz"},{"E":-2.6,"dos":0.8,"orb":"xz,yz"},{"E":-2.4,"dos":1,"orb":"xz,yz"},{"E":-2.25,"dos":1.2,"orb":"xz,yz"},{"E":-2.1,"dos":0.6,"orb":"xz,yz"},{"E":-1.9,"dos":0.3,"orb":"xz,yz"},{"E":-1.6,"dos":0.15,"orb":"xz,yz"},{"E":-1.2,"dos":0.1,"orb":"xz,yz"},{"E":-0.6,"dos":0.05,"orb":"xz,yz"},{"E":0,"dos":0,"orb":"xz,yz"},
{"E":-7.6,"dos":0.02,"orb":"z²"},{"E":-7,"dos":0.05,"orb":"z²"},{"E":-6.5,"dos":0.1,"orb":"z²"},{"E":-6.2,"dos":0.2,"orb":"z²"},{"E":-6.05,"dos":0.6,"orb":"z²"},{"E":-5.95,"dos":2.8,"orb":"z²"},{"E":-5.85,"dos":1.5,"orb":"z²"},{"E":-5.7,"dos":1,"orb":"z²"},{"E":-5.55,"dos":0.8,"orb":"z²"},{"E":-5.4,"dos":0.6,"orb":"z²"},{"E":-5.25,"dos":0.7,"orb":"z²"},{"E":-5.1,"dos":0.9,"orb":"z²"},{"E":-4.95,"dos":0.6,"orb":"z²"},{"E":-4.8,"dos":0.9,"orb":"z²"},{"E":-4.65,"dos":1.3,"orb":"z²"},{"E":-4.5,"dos":1.9,"orb":"z²"},{"E":-4.35,"dos":1,"orb":"z²"},{"E":-4.2,"dos":0.7,"orb":"z²"},{"E":-4.05,"dos":0.8,"orb":"z²"},{"E":-3.9,"dos":0.6,"orb":"z²"},{"E":-3.75,"dos":0.7,"orb":"z²"},{"E":-3.6,"dos":0.9,"orb":"z²"},{"E":-3.45,"dos":0.6,"orb":"z²"},{"E":-3.3,"dos":0.5,"orb":"z²"},{"E":-3.1,"dos":0.5,"orb":"z²"},{"E":-2.95,"dos":0.4,"orb":"z²"},{"E":-2.8,"dos":0.35,"orb":"z²"},{"E":-2.65,"dos":0.5,"orb":"z²"},{"E":-2.5,"dos":0.5,"orb":"z²"},{"E":-2.35,"dos":0.35,"orb":"z²"},{"E":-2.2,"dos":0.3,"orb":"z²"},{"E":-2.05,"dos":0.3,"orb":"z²"},{"E":-1.9,"dos":0.35,"orb":"z²"},{"E":-1.7,"dos":0.3,"orb":"z²"},{"E":-1.5,"dos":0.3,"orb":"z²"},{"E":-1.3,"dos":0.2,"orb":"z²"},{"E":-1,"dos":0.1,"orb":"z²"},{"E":-0.6,"dos":0.05,"orb":"z²"},{"E":0,"dos":0.02,"orb":"z²"},{"E":7,"dos":0.01,"orb":"z²"}
],
"pm_o4":[
{"E":-6,"dos":0,"orb":"px,py"},{"E":-5.8,"dos":0.03,"orb":"px,py"},{"E":-5.6,"dos":0.05,"orb":"px,py"},{"E":-5.4,"dos":0.1,"orb":"px,py"},{"E":-5.2,"dos":0.15,"orb":"px,py"},{"E":-5.05,"dos":0.3,"orb":"px,py"},{"E":-4.9,"dos":0.45,"orb":"px,py"},{"E":-4.8,"dos":0.6,"orb":"px,py"},{"E":-4.7,"dos":0.3,"orb":"px,py"},{"E":-4.55,"dos":0.15,"orb":"px,py"},{"E":-4.4,"dos":0.08,"orb":"px,py"},{"E":-4.2,"dos":0.06,"orb":"px,py"},{"E":-3.9,"dos":0.05,"orb":"px,py"},{"E":-3.6,"dos":0.08,"orb":"px,py"},{"E":-3.3,"dos":0.1,"orb":"px,py"},{"E":-3.15,"dos":0.4,"orb":"px,py"},{"E":-3,"dos":0.3,"orb":"px,py"},{"E":-2.85,"dos":0.45,"orb":"px,py"},{"E":-2.75,"dos":0.7,"orb":"px,py"},{"E":-2.65,"dos":1.1,"orb":"px,py"},{"E":-2.55,"dos":0.9,"orb":"px,py"},{"E":-2.45,"dos":0.5,"orb":"px,py"},{"E":-2.3,"dos":0.3,"orb":"px,py"},{"E":-2.15,"dos":0.2,"orb":"px,py"},{"E":-2,"dos":0.1,"orb":"px,py"},{"E":-1.8,"dos":0.08,"orb":"px,py"},{"E":-1.6,"dos":0.1,"orb":"px,py"},{"E":-1.4,"dos":0.2,"orb":"px,py"},{"E":-1.25,"dos":0.3,"orb":"px,py"},{"E":-1.1,"dos":0.5,"orb":"px,py"},{"E":-1,"dos":0.72,"orb":"px,py"},{"E":-0.9,"dos":0.4,"orb":"px,py"},{"E":-0.75,"dos":0.2,"orb":"px,py"},{"E":-0.6,"dos":0.08,"orb":"px,py"},{"E":-0.4,"dos":0.03,"orb":"px,py"},{"E":-0.2,"dos":0,"orb":"px,py"},{"E":4.3,"dos":0,"orb":"px,py"},{"E":4.5,"dos":0.03,"orb":"px,py"},{"E":4.8,"dos":0.02,"orb":"px,py"},{"E":5.2,"dos":0.03,"orb":"px,py"},{"E":5.6,"dos":0.02,"orb":"px,py"},{"E":6,"dos":0.03,"orb":"px,py"},{"E":6.2,"dos":0,"orb":"px,py"},
{"E":-6.4,"dos":0.01,"orb":"pz"},{"E":-6,"dos":0.03,"orb":"pz"},{"E":-5.8,"dos":0.05,"orb":"pz"},{"E":-5.7,"dos":0.2,"orb":"pz"},{"E":-5.6,"dos":1.1,"orb":"pz"},{"E":-5.5,"dos":0.3,"orb":"pz"},{"E":-5.35,"dos":0.05,"orb":"pz"},{"E":-5,"dos":0.05,"orb":"pz"},{"E":-4.7,"dos":0.08,"orb":"pz"},{"E":-4.5,"dos":0.2,"orb":"pz"},{"E":-4.4,"dos":0.66,"orb":"pz"},{"E":-4.3,"dos":0.2,"orb":"pz"},{"E":-4.1,"dos":0.1,"orb":"pz"},{"E":-3.9,"dos":0.15,"orb":"pz"},{"E":-3.7,"dos":0.2,"orb":"pz"},{"E":-3.55,"dos":0.25,"orb":"pz"},{"E":-3.4,"dos":0.1,"orb":"pz"},{"E":-3.2,"dos":0.08,"orb":"pz"},{"E":-3,"dos":0.1,"orb":"pz"},{"E":-2.8,"dos":0.1,"orb":"pz"},{"E":-2.6,"dos":0.12,"orb":"pz"},{"E":-2.4,"dos":0.1,"orb":"pz"},{"E":-2.2,"dos":0.15,"orb":"pz"},{"E":-2,"dos":0.2,"orb":"pz"},{"E":-1.85,"dos":0.35,"orb":"pz"},{"E":-1.7,"dos":0.45,"orb":"pz"},{"E":-1.55,"dos":0.5,"orb":"pz"},{"E":-1.4,"dos":0.35,"orb":"pz"},{"E":-1.25,"dos":0.25,"orb":"pz"},{"E":-1.1,"dos":0.3,"orb":"pz"},{"E":-0.95,"dos":0.25,"orb":"pz"},{"E":-0.8,"dos":0.12,"orb":"pz"},{"E":-0.6,"dos":0.05,"orb":"pz"},{"E":-0.3,"dos":0.02,"orb":"pz"},{"E":0,"dos":0.01,"orb":"pz"},{"E":3,"dos":0.01,"orb":"pz"},{"E":3.15,"dos":0.1,"orb":"pz"},{"E":3.25,"dos":0.24,"orb":"pz"},{"E":3.35,"dos":0.05,"orb":"pz"},{"E":3.6,"dos":0.05,"orb":"pz"},{"E":3.8,"dos":0.1,"orb":"pz"},{"E":3.9,"dos":0.19,"orb":"pz"},{"E":4,"dos":0.05,"orb":"pz"},{"E":4.3,"dos":0.03,"orb":"pz"},{"E":4.6,"dos":0.02,"orb":"pz"},{"E":5,"dos":0.03,"orb":"pz"},{"E":5.5,"dos":0.01,"orb":"pz"},{"E":7,"dos":0,"orb":"pz"}
],
"pm_cu1":[
{"E":-5.9,"dos":0,"orb":"x²-y²"},{"E":-5.7,"dos":0.3,"orb":"x²-y²"},{"E":-5.6,"dos":3.2,"orb":"x²-y²"},{"E":-5.45,"dos":3.2,"orb":"x²-y²"},{"E":-5.35,"dos":0.3,"orb":"x²-y²"},{"E":-5.1,"dos":0.2,"orb":"x²-y²"},{"E":-4.95,"dos":0.5,"orb":"x²-y²"},{"E":-4.85,"dos":3.2,"orb":"x²-y²"},{"E":-4.7,"dos":3.2,"orb":"x²-y²"},{"E":-4.6,"dos":0.4,"orb":"x²-y²"},{"E":-4.4,"dos":0.1,"orb":"x²-y²"},{"E":-3.5,"dos":0.05,"orb":"x²-y²"},{"E":-3,"dos":0.1,"orb":"x²-y²"},{"E":-2.5,"dos":0.1,"orb":"x²-y²"},{"E":-2,"dos":0.15,"orb":"x²-y²"},{"E":-1.5,"dos":0.1,"orb":"x²-y²"},{"E":-1,"dos":0.15,"orb":"x²-y²"},{"E":-0.6,"dos":0.05,"orb":"x²-y²"},{"E":0,"dos":0,"orb":"x²-y²"},{"E":0.2,"dos":0,"orb":"x²-y²"},{"E":0.4,"dos":0.05,"orb":"x²-y²"},{"E":0.6,"dos":0.03,"orb":"x²-y²"},{"E":0.8,"dos":0,"orb":"x²-y²"},
{"E":-6.4,"dos":0,"orb":"xy"},{"E":-6.25,"dos":0.5,"orb":"xy"},{"E":-6.15,"dos":3.2,"orb":"xy"},{"E":-5.9,"dos":3.2,"orb":"xy"},{"E":-5.8,"dos":0.3,"orb":"xy"},{"E":-5.6,"dos":0.1,"orb":"xy"},{"E":-5,"dos":0.1,"orb":"xy"},{"E":-4.6,"dos":0.2,"orb":"xy"},{"E":-4.45,"dos":1,"orb":"xy"},{"E":-4.35,"dos":3.2,"orb":"xy"},{"E":-4.05,"dos":3.2,"orb":"xy"},{"E":-3.95,"dos":0.8,"orb":"xy"},{"E":-3.8,"dos":1.2,"orb":"xy"},{"E":-3.65,"dos":1.6,"orb":"xy"},{"E":-3.5,"dos":1.3,"orb":"xy"},{"E":-3.35,"dos":0.8,"orb":"xy"},{"E":-3.2,"dos":0.5,"orb":"xy"},{"E":-3,"dos":0.5,"orb":"xy"},{"E":-2.8,"dos":0.4,"orb":"xy"},{"E":-2.5,"dos":0.3,"orb":"xy"},{"E":-2.2,"dos":0.25,"orb":"xy"},{"E":-1.8,"dos":0.2,"orb":"xy"},{"E":-1.4,"dos":0.15,"orb":"xy"},{"E":-1,"dos":0.1,"orb":"xy"},{"E":-0.5,"dos":0.05,"orb":"xy"},{"E":0,"dos":0,"orb":"xy"},{"E":0.15,"dos":0,"orb":"xy"},{"E":0.2,"dos":0.15,"orb":"xy"},{"E":0.5,"dos":0.2,"orb":"xy"},{"E":0.8,"dos":0.15,"orb":"xy"},{"E":1,"dos":0,"orb":"xy"},
{"E":-6.8,"dos":0,"orb":"xz,yz"},{"E":-6.6,"dos":0.2,"orb":"xz,yz"},{"E":-6.5,"dos":0.5,"orb":"xz,yz"},{"E":-6.4,"dos":1.9,"orb":"xz,yz"},{"E":-6.3,"dos":0.8,"orb":"xz,yz"},{"E":-6.2,"dos":0.3,"orb":"xz,yz"},{"E":-6,"dos":0.2,"orb":"xz,yz"},{"E":-5.5,"dos":0.1,"orb":"xz,yz"},{"E":-5,"dos":0.1,"orb":"xz,yz"},{"E":-4.5,"dos":0.15,"orb":"xz,yz"},{"E":-4,"dos":0.2,"orb":"xz,yz"},{"E":-3.5,"dos":0.25,"orb":"xz,yz"},{"E":-3,"dos":0.3,"orb":"xz,yz"},{"E":-2.8,"dos":0.6,"orb":"xz,yz"},{"E":-2.7,"dos":1.6,"orb":"xz,yz"},{"E":-2.6,"dos":0.5,"orb":"xz,yz"},{"E":-2.3,"dos":0.3,"orb":"xz,yz"},{"E":-2,"dos":0.3,"orb":"xz,yz"},{"E":-1.75,"dos":0.6,"orb":"xz,yz"},{"E":-1.6,"dos":1.15,"orb":"xz,yz"},{"E":-1.5,"dos":0.4,"orb":"xz,yz"},{"E":-1.2,"dos":0.2,"orb":"xz,yz"},{"E":-0.8,"dos":0.1,"orb":"xz,yz"},{"E":0,"dos":0,"orb":"xz,yz"},
{"E":-6.4,"dos":0,"orb":"z²"},{"E":-6.1,"dos":0.2,"orb":"z²"},{"E":-6,"dos":1,"orb":"z²"},{"E":-5.9,"dos":3.2,"orb":"z²"},{"E":-5.8,"dos":0.5,"orb":"z²"},{"E":-5.6,"dos":0.2,"orb":"z²"},{"E":-5,"dos":0.2,"orb":"z²"},{"E":-4.5,"dos":0.25,"orb":"z²"},{"E":-4,"dos":0.2,"orb":"z²"},{"E":-3.5,"dos":0.25,"orb":"z²"},{"E":-3.2,"dos":0.4,"orb":"z²"},{"E":-3,"dos":0.3,"orb":"z²"},{"E":-2.5,"dos":0.25,"orb":"z²"},{"E":-2,"dos":0.2,"orb":"z²"},{"E":-1.6,"dos":0.3,"orb":"z²"},{"E":-1.4,"dos":0.5,"orb":"z²"},{"E":-1.25,"dos":1.16,"orb":"z²"},{"E":-1.15,"dos":0.8,"orb":"z²"},{"E":-1.05,"dos":0.9,"orb":"z²"},{"E":-0.95,"dos":1.35,"orb":"z²"},{"E":-0.85,"dos":0.5,"orb":"z²"},{"E":-0.7,"dos":0.3,"orb":"z²"},{"E":-0.5,"dos":0.1,"orb":"z²"},{"E":-0.2,"dos":0.03,"orb":"z²"},{"E":0,"dos":0.02,"orb":"z²"},{"E":0.2,"dos":0.1,"orb":"z²"},{"E":0.35,"dos":0.6,"orb":"z²"},{"E":0.5,"dos":0.82,"orb":"z²"},{"E":0.65,"dos":0.5,"orb":"z²"},{"E":0.8,"dos":0.6,"orb":"z²"},{"E":0.95,"dos":0.2,"orb":"z²"},{"E":1.1,"dos":0.02,"orb":"z²"},{"E":2.9,"dos":0.02,"orb":"z²"},{"E":3,"dos":0.8,"orb":"z²"},{"E":3.1,"dos":1.6,"orb":"z²"},{"E":3.2,"dos":0.3,"orb":"z²"},{"E":3.3,"dos":0.02,"orb":"z²"},{"E":4.2,"dos":0.05,"orb":"z²"},{"E":4.5,"dos":0.1,"orb":"z²"},{"E":4.8,"dos":0.06,"orb":"z²"},{"E":5.2,"dos":0.08,"orb":"z²"},{"E":5.6,"dos":0.03,"orb":"z²"},{"E":6.5,"dos":0.01,"orb":"z²"},{"E":7,"dos":0,"orb":"z²"}
],
"pm_o1":[
{"E":-6.6,"dos":0,"orb":"px,py"},{"E":-6.4,"dos":0.1,"orb":"px,py"},{"E":-6.3,"dos":1.1,"orb":"px,py"},{"E":-6,"dos":1.1,"orb":"px,py"},{"E":-5.9,"dos":0.1,"orb":"px,py"},{"E":-5.6,"dos":0.05,"orb":"px,py"},{"E":-5.5,"dos":0.3,"orb":"px,py"},{"E":-5.4,"dos":1.1,"orb":"px,py"},{"E":-5.15,"dos":1.1,"orb":"px,py"},{"E":-5.05,"dos":0.1,"orb":"px,py"},{"E":-4.8,"dos":0.02,"orb":"px,py"},{"E":-4.3,"dos":0.02,"orb":"px,py"},{"E":-4,"dos":0.05,"orb":"px,py"},{"E":-3.8,"dos":0.1,"orb":"px,py"},{"E":-3.65,"dos":0.25,"orb":"px,py"},{"E":-3.5,"dos":0.35,"orb":"px,py"},{"E":-3.35,"dos":0.53,"orb":"px,py"},{"E":-3.2,"dos":0.4,"orb":"px,py"},{"E":-3.05,"dos":0.49,"orb":"px,py"},{"E":-2.95,"dos":0.3,"orb":"px,py"},{"E":-2.8,"dos":0.35,"orb":"px,py"},{"E":-2.65,"dos":0.7,"orb":"px,py"},{"E":-2.55,"dos":0.9,"orb":"px,py"},{"E":-2.45,"dos":1.1,"orb":"px,py"},{"E":-2.3,"dos":1.1,"orb":"px,py"},{"E":-2.2,"dos":0.8,"orb":"px,py"},{"E":-2.05,"dos":0.4,"orb":"px,py"},{"E":-1.9,"dos":0.2,"orb":"px,py"},{"E":-1.6,"dos":0.1,"orb":"px,py"},{"E":-1.3,"dos":0.12,"orb":"px,py"},{"E":-1.15,"dos":0.15,"orb":"px,py"},{"E":-0.9,"dos":0.05,"orb":"px,py"},{"E":-0.6,"dos":0.03,"orb":"px,py"},{"E":0,"dos":0,"orb":"px,py"},{"E":0.2,"dos":0,"orb":"px,py"},{"E":0.3,"dos":0.2,"orb":"px,py"},{"E":0.45,"dos":0.6,"orb":"px,py"},{"E":0.6,"dos":0.72,"orb":"px,py"},{"E":0.68,"dos":0.5,"orb":"px,py"},{"E":0.75,"dos":0.79,"orb":"px,py"},{"E":0.9,"dos":0.45,"orb":"px,py"},{"E":1.05,"dos":0.1,"orb":"px,py"},{"E":1.15,"dos":0,"orb":"px,py"},{"E":3.1,"dos":0,"orb":"px,py"},{"E":3.25,"dos":0.15,"orb":"px,py"},{"E":3.35,"dos":0.02,"orb":"px,py"},{"E":3.75,"dos":0,"orb":"px,py"},{"E":3.85,"dos":0.1,"orb":"px,py"},{"E":3.95,"dos":0.03,"orb":"px,py"},{"E":4.05,"dos":0.1,"orb":"px,py"},{"E":4.15,"dos":0,"orb":"px,py"},{"E":4.6,"dos":0,"orb":"px,py"},{"E":4.8,"dos":0.03,"orb":"px,py"},{"E":5.2,"dos":0.02,"orb":"px,py"},{"E":5.5,"dos":0,"orb":"px,py"},
{"E":-7,"dos":0,"orb":"pz"},{"E":-6.8,"dos":0.05,"orb":"pz"},{"E":-6.65,"dos":0.2,"orb":"pz"},{"E":-6.5,"dos":0.43,"orb":"pz"},{"E":-6.4,"dos":0.35,"orb":"pz"},{"E":-6.25,"dos":0.15,"orb":"pz"},{"E":-6.1,"dos":0.1,"orb":"pz"},{"E":-5.9,"dos":0.03,"orb":"pz"},{"E":-5.5,"dos":0.02,"orb":"pz"},{"E":-4.8,"dos":0.02,"orb":"pz"},{"E":-4.5,"dos":0.1,"orb":"pz"},{"E":-4.4,"dos":0.05,"orb":"pz"},{"E":-4,"dos":0.03,"orb":"pz"},{"E":-3.5,"dos":0.05,"orb":"pz"},{"E":-3,"dos":0.05,"orb":"pz"},{"E":-2.8,"dos":0.1,"orb":"pz"},{"E":-2.65,"dos":0.3,"orb":"pz"},{"E":-2.55,"dos":0.6,"orb":"pz"},{"E":-2.45,"dos":1.1,"orb":"pz"},{"E":-2.35,"dos":1.1,"orb":"pz"},{"E":-2.25,"dos":0.8,"orb":"pz"},{"E":-2.1,"dos":0.3,"orb":"pz"},{"E":-1.9,"dos":0.2,"orb":"pz"},{"E":-1.7,"dos":0.1,"orb":"pz"},{"E":-1.5,"dos":0.05,"orb":"pz"},{"E":-1.3,"dos":0.2,"orb":"pz"},{"E":-1.2,"dos":0.95,"orb":"pz"},{"E":-1.1,"dos":0.6,"orb":"pz"},{"E":-1,"dos":0.3,"orb":"pz"},{"E":-0.9,"dos":0.05,"orb":"pz"},{"E":-0.6,"dos":0.02,"orb":"pz"},{"E":0,"dos":0.01,"orb":"pz"},{"E":7,"dos":0.01,"orb":"pz"}
]
},
"vconcat":[
{"title":{"text":"AF","anchor":"middle","fontSize":18,"offset":1},
 "columns":2,"bounds":"flush","spacing":{"row":2,"column":3},
 "resolve":{"scale":{"color":"independent"},"legend":{"color":"independent"}},
 "concat":[
  {"width":195,"height":54,"data":{"name":"af_o2"},
   "resolve":{"axis":{"x":"independent","y":"independent"}},
   "layer":[
    {"transform":[{"filter":"datum.orb == 'px,py'"}],"mark":{"type":"area","color":"#1414ee","clip":true},
     "encoding":{"x":{"field":"E","type":"quantitative","scale":{"domain":[-8,8]},"axis":{"orient":"bottom","values":[-8,-7,-6,-5,-4,-3,-2,-1,0,1,2,3,4,5,6,7,8],"labels":false,"title":null}},
      "y":{"field":"dos","type":"quantitative","scale":{"domain":[0,1.05]},"axis":{"orient":"left","values":[0,0.2,0.4,0.6,0.8,1],"format":"~g","labelExpr":"datum.value == 0 || datum.value == 0.4 || datum.value == 0.8 ? datum.label : ''","title":null}}}},
    {"mark":{"type":"line","strokeWidth":1.5,"clip":true},
     "encoding":{"x":{"field":"E","type":"quantitative","axis":{"orient":"top","values":[-8,-7,-6,-5,-4,-3,-2,-1,0,1,2,3,4,5,6,7,8],"labels":false,"title":null}},
      "y":{"field":"dos","type":"quantitative","axis":{"orient":"right","values":[0,0.2,0.4,0.6,0.8,1],"labels":false,"title":null}},
      "color":{"field":"orb","type":"nominal","scale":{"domain":["px,py","pz"],"range":["#1414ee","#ee1414"]},"legend":null}}},
    {"data":{"values":[{}]},"mark":{"type":"rule","strokeDash":[5,4],"color":"#222","strokeWidth":1.2},"encoding":{"x":{"datum":0,"type":"quantitative","axis":null}}},
    {"data":{"values":[{}]},"mark":{"type":"text","align":"left","baseline":"middle","fontSize":14,"fontWeight":"bold","font":"Liberation Serif","color":"black"},"encoding":{"x":{"datum":0.8,"type":"quantitative","axis":null},"y":{"datum":0.8,"type":"quantitative","axis":null},"text":{"value":"O(2)plane"}}}
   ]},
  {"width":195,"height":54,"data":{"name":"af_o4"},
   "resolve":{"axis":{"x":"independent","y":"independent"}},
   "layer":[
    {"transform":[{"filter":"datum.orb == 'px,py'"}],"mark":{"type":"area","color":"#1414ee","clip":true},
     "encoding":{"x":{"field":"E","type":"quantitative","scale":{"domain":[-8,8]},"axis":{"orient":"bottom","values":[-8,-7,-6,-5,-4,-3,-2,-1,0,1,2,3,4,5,6,7,8],"labels":false,"title":null}},
      "y":{"field":"dos","type":"quantitative","scale":{"domain":[0,1.05]},"axis":{"orient":"left","values":[0,0.2,0.4,0.6,0.8,1],"labels":false,"title":null}}}},
    {"mark":{"type":"line","strokeWidth":1.5,"clip":true},
     "encoding":{"x":{"field":"E","type":"quantitative","axis":{"orient":"top","values":[-8,-7,-6,-5,-4,-3,-2,-1,0,1,2,3,4,5,6,7,8],"labels":false,"title":null}},
      "y":{"field":"dos","type":"quantitative","axis":{"orient":"right","values":[0,0.2,0.4,0.6,0.8,1],"labels":false,"title":null}},
      "color":{"field":"orb","type":"nominal","scale":{"domain":["px,py","pz"],"range":["#1414ee","#ee1414"]},"legend":null}}},
    {"data":{"values":[{}]},"mark":{"type":"rule","strokeDash":[5,4],"color":"#222","strokeWidth":1.2},"encoding":{"x":{"datum":0,"type":"quantitative","axis":null}}},
    {"data":{"values":[{}]},"mark":{"type":"text","align":"left","baseline":"middle","fontSize":14,"fontWeight":"bold","font":"Liberation Serif","color":"black"},"encoding":{"x":{"datum":1.5,"type":"quantitative","axis":null},"y":{"datum":0.8,"type":"quantitative","axis":null},"text":{"value":"O(4) top"}}}
   ]},
  {"width":195,"height":54,"data":{"name":"af_cu2up"},
   "resolve":{"axis":{"x":"independent","y":"independent"}},
   "layer":[
    {"transform":[{"filter":"datum.orb == 'x²-y²'"}],"mark":{"type":"area","color":"#1414ee","clip":true},
     "encoding":{"x":{"field":"E","type":"quantitative","scale":{"domain":[-8,8]},"axis":{"orient":"bottom","values":[-8,-7,-6,-5,-4,-3,-2,-1,0,1,2,3,4,5,6,7,8],"labels":false,"title":null}},
      "y":{"field":"dos","type":"quantitative","scale":{"domain":[0,2.7]},"axis":{"orient":"left","values":[0,0.5,1,1.5,2,2.5],"format":"~g","labelExpr":"datum.value % 1 == 0 ? datum.label : ''","title":null}}}},
    {"mark":{"type":"line","strokeWidth":1.5,"clip":true},
     "encoding":{"x":{"field":"E","type":"quantitative","axis":{"orient":"top","values":[-8,-7,-6,-5,-4,-3,-2,-1,0,1,2,3,4,5,6,7,8],"labels":false,"title":null}},
      "y":{"field":"dos","type":"quantitative","axis":{"orient":"right","values":[0,0.5,1,1.5,2,2.5],"labels":false,"title":null}},
      "color":{"field":"orb","type":"nominal","scale":{"domain":["xy","xz,yz","z²","x²-y²"],"range":["#22dd22","#22eeee","#ee1414","#1414ee"]},"legend":null}}},
    {"data":{"values":[{}]},"mark":{"type":"rule","strokeDash":[5,4],"color":"#222","strokeWidth":1.2},"encoding":{"x":{"datum":0,"type":"quantitative","axis":null}}},
    {"data":{"values":[{}]},"mark":{"type":"text","align":"left","baseline":"middle","fontSize":14,"fontWeight":"bold","font":"Liberation Serif","color":"black"},"encoding":{"x":{"datum":0.65,"type":"quantitative","axis":null},"y":{"datum":2.1,"type":"quantitative","axis":null},"text":{"value":"Cu(2) up"}}}
   ]},
  {"width":195,"height":54,"data":{"name":"af_cu1"},
   "resolve":{"axis":{"x":"independent","y":"independent"}},
   "layer":[
    {"transform":[{"filter":"datum.orb == 'x²-y²'"}],"mark":{"type":"area","color":"#1414ee","clip":true},
     "encoding":{"x":{"field":"E","type":"quantitative","scale":{"domain":[-8,8]},"axis":{"orient":"bottom","values":[-8,-7,-6,-5,-4,-3,-2,-1,0,1,2,3,4,5,6,7,8],"labels":false,"title":null}},
      "y":{"field":"dos","type":"quantitative","scale":{"domain":[0,2.7]},"axis":{"orient":"left","values":[0,0.5,1,1.5,2,2.5],"labels":false,"title":null}}}},
    {"mark":{"type":"line","strokeWidth":1.5,"clip":true},
     "encoding":{"x":{"field":"E","type":"quantitative","axis":{"orient":"top","values":[-8,-7,-6,-5,-4,-3,-2,-1,0,1,2,3,4,5,6,7,8],"labels":false,"title":null}},
      "y":{"field":"dos","type":"quantitative","axis":{"orient":"right","values":[0,0.5,1,1.5,2,2.5],"labels":false,"title":null}},
      "color":{"field":"orb","type":"nominal","scale":{"domain":["xy","xz,yz","z²","x²-y²"],"range":["#22dd22","#22eeee","#ee1414","#1414ee"]},"legend":null}}},
    {"data":{"values":[{}]},"mark":{"type":"rule","strokeDash":[5,4],"color":"#222","strokeWidth":1.2},"encoding":{"x":{"datum":0,"type":"quantitative","axis":null}}},
    {"data":{"values":[{}]},"mark":{"type":"text","align":"left","baseline":"middle","fontSize":14,"fontWeight":"bold","font":"Liberation Serif","color":"black"},"encoding":{"x":{"datum":1.1,"type":"quantitative","axis":null},"y":{"datum":2.0,"type":"quantitative","axis":null},"text":{"value":"Cu(1) chain"}}}
   ]},
  {"width":195,"height":54,"data":{"name":"af_cu2dn"},
   "resolve":{"axis":{"x":"independent","y":"independent"}},
   "layer":[
    {"transform":[{"filter":"datum.orb == 'x²-y²'"}],"mark":{"type":"area","color":"#1414ee","clip":true},
     "encoding":{"x":{"field":"E","type":"quantitative","scale":{"domain":[-8,8]},"axis":{"orient":"bottom","values":[-8,-7,-6,-5,-4,-3,-2,-1,0,1,2,3,4,5,6,7,8],"labelExpr":"datum.value % 2 == 0 ? datum.label : ''","title":"E-EF"}},
      "y":{"field":"dos","type":"quantitative","scale":{"domain":[0,2.7],"reverse":true},"axis":{"orient":"left","values":[0,0.5,1,1.5,2,2.5],"format":"~g","labelExpr":"datum.value % 1 == 0 && datum.value > 0 ? datum.label : ''","title":null}}}},
    {"mark":{"type":"line","strokeWidth":1.5,"clip":true},
     "encoding":{"x":{"field":"E","type":"quantitative","axis":{"orient":"top","values":[-8,-7,-6,-5,-4,-3,-2,-1,0,1,2,3,4,5,6,7,8],"labels":false,"title":null}},
      "y":{"field":"dos","type":"quantitative","axis":{"orient":"right","values":[0,0.5,1,1.5,2,2.5],"labels":false,"title":null}},
      "color":{"field":"orb","type":"nominal","scale":{"domain":["xy","xz,yz","z²","x²-y²"],"range":["#22dd22","#22eeee","#ee1414","#1414ee"]},"legend":null}}},
    {"data":{"values":[{}]},"mark":{"type":"rule","strokeDash":[5,4],"color":"#222","strokeWidth":1.2},"encoding":{"x":{"datum":0,"type":"quantitative","axis":null}}},
    {"data":{"values":[{}]},"mark":{"type":"text","align":"left","baseline":"middle","fontSize":14,"fontWeight":"bold","font":"Liberation Serif","color":"black"},"encoding":{"x":{"datum":0.6,"type":"quantitative","axis":null},"y":{"datum":2.05,"type":"quantitative","axis":null},"text":{"value":"Cu(2) dn"}}}
   ]},
  {"width":195,"height":54,"data":{"name":"af_o1"},
   "resolve":{"axis":{"x":"independent","y":"independent"}},
   "layer":[
    {"transform":[{"filter":"datum.orb == 'px,py'"}],"mark":{"type":"area","color":"#1414ee","clip":true},
     "encoding":{"x":{"field":"E","type":"quantitative","scale":{"domain":[-8,8]},"axis":{"orient":"bottom","values":[-8,-7,-6,-5,-4,-3,-2,-1,0,1,2,3,4,5,6,7,8],"labelExpr":"datum.value % 2 == 0 ? datum.label : ''","title":"E-EF"}},
      "y":{"field":"dos","type":"quantitative","scale":{"domain":[0,1.05]},"axis":{"orient":"left","values":[0,0.2,0.4,0.6,0.8,1],"labels":false,"title":null}}}},
    {"mark":{"type":"line","strokeWidth":1.5,"clip":true},
     "encoding":{"x":{"field":"E","type":"quantitative","axis":{"orient":"top","values":[-8,-7,-6,-5,-4,-3,-2,-1,0,1,2,3,4,5,6,7,8],"labels":false,"title":null}},
      "y":{"field":"dos","type":"quantitative","axis":{"orient":"right","values":[0,0.2,0.4,0.6,0.8,1],"labels":false,"title":null}},
      "color":{"field":"orb","type":"nominal","scale":{"domain":["px,py","pz"],"range":["#1414ee","#ee1414"]},"legend":null}}},
    {"data":{"values":[{}]},"mark":{"type":"rule","strokeDash":[5,4],"color":"#222","strokeWidth":1.2},"encoding":{"x":{"datum":0,"type":"quantitative","axis":null}}},
    {"data":{"values":[{}]},"mark":{"type":"text","align":"left","baseline":"middle","fontSize":14,"fontWeight":"bold","font":"Liberation Serif","color":"black"},"encoding":{"x":{"datum":0.85,"type":"quantitative","axis":null},"y":{"datum":0.71,"type":"quantitative","axis":null},"text":{"value":"O (1)chain"}}}
   ]}
 ]},
{"title":{"text":"PM","anchor":"middle","fontSize":18,"offset":3},
 "columns":2,"bounds":"flush","spacing":{"row":2,"column":3},
 "resolve":{"scale":{"color":"independent"},"legend":{"color":"independent"}},
 "concat":[
  {"width":195,"height":54,"data":{"name":"pm_o2"},
   "resolve":{"axis":{"x":"independent","y":"independent"}},
   "layer":[
    {"transform":[{"filter":"datum.orb == 'px,py'"}],"mark":{"type":"area","color":"#1414ee","clip":true},
     "encoding":{"x":{"field":"E","type":"quantitative","scale":{"domain":[-8,8]},"axis":{"orient":"bottom","values":[-8,-7,-6,-5,-4,-3,-2,-1,0,1,2,3,4,5,6,7,8],"labels":false,"title":null}},
      "y":{"field":"dos","type":"quantitative","scale":{"domain":[0,1]},"axis":{"orient":"left","values":[0,0.2,0.4,0.6,0.8],"format":"~g","labelExpr":"datum.value == 0 || datum.value == 0.4 || datum.value == 0.8 ? datum.label : ''","title":null}}}},
    {"mark":{"type":"line","strokeWidth":1.5,"clip":true},
     "encoding":{"x":{"field":"E","type":"quantitative","axis":{"orient":"top","values":[-8,-7,-6,-5,-4,-3,-2,-1,0,1,2,3,4,5,6,7,8],"labels":false,"title":null}},
      "y":{"field":"dos","type":"quantitative","axis":{"orient":"right","values":[0,0.2,0.4,0.6,0.8],"labels":false,"title":null}},
      "color":{"field":"orb","type":"nominal","scale":{"domain":["px,py","pz"],"range":["#1414ee","#ee1414"]},"legend":{"orient":"none","legendX":2,"legendY":129,"title":null,"symbolType":"M-1.5,0H1.5"}}}},
    {"data":{"values":[{}]},"mark":{"type":"rule","strokeDash":[5,4],"color":"#222","strokeWidth":1.2},"encoding":{"x":{"datum":0,"type":"quantitative","axis":null}}},
    {"data":{"values":[{}]},"mark":{"type":"text","align":"left","baseline":"middle","fontSize":14,"fontWeight":"bold","font":"Liberation Serif","color":"black"},"encoding":{"x":{"datum":0.93,"type":"quantitative","axis":null},"y":{"datum":0.8,"type":"quantitative","axis":null},"text":{"value":"O(2) plane"}}}
   ]},
  {"width":195,"height":54,"data":{"name":"pm_o4"},
   "resolve":{"axis":{"x":"independent","y":"independent"}},
   "layer":[
    {"transform":[{"filter":"datum.orb == 'px,py'"}],"mark":{"type":"area","color":"#1414ee","clip":true},
     "encoding":{"x":{"field":"E","type":"quantitative","scale":{"domain":[-8,8]},"axis":{"orient":"bottom","values":[-8,-7,-6,-5,-4,-3,-2,-1,0,1,2,3,4,5,6,7,8],"labels":false,"title":null}},
      "y":{"field":"dos","type":"quantitative","scale":{"domain":[0,1]},"axis":{"orient":"left","values":[0,0.2,0.4,0.6,0.8],"labels":false,"title":null}}}},
    {"mark":{"type":"line","strokeWidth":1.5,"clip":true},
     "encoding":{"x":{"field":"E","type":"quantitative","axis":{"orient":"top","values":[-8,-7,-6,-5,-4,-3,-2,-1,0,1,2,3,4,5,6,7,8],"labels":false,"title":null}},
      "y":{"field":"dos","type":"quantitative","axis":{"orient":"right","values":[0,0.2,0.4,0.6,0.8],"labels":false,"title":null}},
      "color":{"field":"orb","type":"nominal","scale":{"domain":["px,py","pz"],"range":["#1414ee","#ee1414"]},"legend":null}}},
    {"data":{"values":[{}]},"mark":{"type":"rule","strokeDash":[5,4],"color":"#222","strokeWidth":1.2},"encoding":{"x":{"datum":0,"type":"quantitative","axis":null}}},
    {"data":{"values":[{}]},"mark":{"type":"text","align":"left","baseline":"middle","fontSize":14,"fontWeight":"bold","font":"Liberation Serif","color":"black"},"encoding":{"x":{"datum":0.58,"type":"quantitative","axis":null},"y":{"datum":0.76,"type":"quantitative","axis":null},"text":{"value":"O(4) top"}}}
   ]},
  {"width":195,"height":54,"data":{"name":"pm_cu2"},
   "resolve":{"axis":{"x":"independent","y":"independent"}},
   "layer":[
    {"transform":[{"filter":"datum.orb == 'x²-y²'"}],"mark":{"type":"area","color":"#1414ee","clip":true},
     "encoding":{"x":{"field":"E","type":"quantitative","scale":{"domain":[-8,8]},"axis":{"orient":"bottom","values":[-8,-7,-6,-5,-4,-3,-2,-1,0,1,2,3,4,5,6,7,8],"labelExpr":"datum.value % 2 == 0 ? datum.label : ''","title":"E-EF"}},
      "y":{"field":"dos","type":"quantitative","scale":{"domain":[0,3]},"axis":{"orient":"left","values":[0,0.5,1,1.5,2,2.5],"format":"~g","labelExpr":"datum.value % 1 == 0 ? datum.label : ''","title":null}}}},
    {"mark":{"type":"line","strokeWidth":1.5,"clip":true},
     "encoding":{"x":{"field":"E","type":"quantitative","axis":{"orient":"top","values":[-8,-7,-6,-5,-4,-3,-2,-1,0,1,2,3,4,5,6,7,8],"labels":false,"title":null}},
      "y":{"field":"dos","type":"quantitative","axis":{"orient":"right","values":[0,0.5,1,1.5,2,2.5],"labels":false,"title":null}},
      "color":{"field":"orb","type":"nominal","scale":{"domain":["xy","xz,yz","z²","x²-y²"],"range":["#22dd22","#22eeee","#ee1414","#1414ee"]},"legend":{"orient":"none","legendX":119,"legendY":76,"title":null,"symbolType":"M-1.5,0H1.5"}}}},
    {"data":{"values":[{}]},"mark":{"type":"rule","strokeDash":[5,4],"color":"#222","strokeWidth":1.2},"encoding":{"x":{"datum":0,"type":"quantitative","axis":null}}},
    {"data":{"values":[{}]},"mark":{"type":"text","align":"left","baseline":"middle","fontSize":14,"fontWeight":"bold","font":"Liberation Serif","color":"black"},"encoding":{"x":{"datum":0.93,"type":"quantitative","axis":null},"y":{"datum":2.33,"type":"quantitative","axis":null},"text":{"value":"Cu(2) plane"}}}
   ]},
  {"width":195,"height":54,"data":{"name":"pm_cu1"},
   "resolve":{"axis":{"x":"independent","y":"independent"}},
   "layer":[
    {"transform":[{"filter":"datum.orb == 'x²-y²'"}],"mark":{"type":"area","color":"#1414ee","clip":true},
     "encoding":{"x":{"field":"E","type":"quantitative","scale":{"domain":[-8,8]},"axis":{"orient":"bottom","values":[-8,-7,-6,-5,-4,-3,-2,-1,0,1,2,3,4,5,6,7,8],"labels":false,"title":null}},
      "y":{"field":"dos","type":"quantitative","scale":{"domain":[0,3]},"axis":{"orient":"left","values":[0,0.5,1,1.5,2,2.5],"labels":false,"title":null}}}},
    {"transform":[{"filter":"datum.orb == 'xy'"}],"mark":{"type":"area","color":"#22dd22","clip":true},
     "encoding":{"x":{"field":"E","type":"quantitative","axis":null},"y":{"field":"dos","type":"quantitative","axis":null}}},
    {"mark":{"type":"line","strokeWidth":1.5,"clip":true},
     "encoding":{"x":{"field":"E","type":"quantitative","axis":{"orient":"top","values":[-8,-7,-6,-5,-4,-3,-2,-1,0,1,2,3,4,5,6,7,8],"labels":false,"title":null}},
      "y":{"field":"dos","type":"quantitative","axis":{"orient":"right","values":[0,0.5,1,1.5,2,2.5],"labels":false,"title":null}},
      "color":{"field":"orb","type":"nominal","scale":{"domain":["xy","xz,yz","z²","x²-y²"],"range":["#22dd22","#22eeee","#ee1414","#1414ee"]},"legend":null}}},
    {"data":{"values":[{}]},"mark":{"type":"rule","strokeDash":[5,4],"color":"#222","strokeWidth":1.2},"encoding":{"x":{"datum":0,"type":"quantitative","axis":null}}},
    {"data":{"values":[{}]},"mark":{"type":"text","align":"left","baseline":"middle","fontSize":14,"fontWeight":"bold","font":"Liberation Serif","color":"black"},"encoding":{"x":{"datum":-0.08,"type":"quantitative","axis":null},"y":{"datum":2.37,"type":"quantitative","axis":null},"text":{"value":"Cu(1) chain"}}}
   ]},
  {"width":195,"height":54,"view":{"stroke":null},"data":{"values":[{}]},"mark":{"type":"text"},"encoding":{"text":{"value":""}}},
  {"width":195,"height":54,"data":{"name":"pm_o1"},
   "resolve":{"axis":{"x":"independent","y":"independent"}},
   "layer":[
    {"transform":[{"filter":"datum.orb == 'px,py'"}],"mark":{"type":"area","color":"#1414ee","clip":true},
     "encoding":{"x":{"field":"E","type":"quantitative","scale":{"domain":[-8,8]},"axis":{"orient":"bottom","values":[-8,-7,-6,-5,-4,-3,-2,-1,0,1,2,3,4,5,6,7,8],"labelExpr":"datum.value % 2 == 0 ? datum.label : ''","title":"E-EF"}},
      "y":{"field":"dos","type":"quantitative","scale":{"domain":[0,1]},"axis":{"orient":"left","values":[0,0.2,0.4,0.6,0.8],"labels":false,"title":null}}}},
    {"mark":{"type":"line","strokeWidth":1.5,"clip":true},
     "encoding":{"x":{"field":"E","type":"quantitative","axis":{"orient":"top","values":[-8,-7,-6,-5,-4,-3,-2,-1,0,1,2,3,4,5,6,7,8],"labels":false,"title":null}},
      "y":{"field":"dos","type":"quantitative","axis":{"orient":"right","values":[0,0.2,0.4,0.6,0.8],"labels":false,"title":null}},
      "color":{"field":"orb","type":"nominal","scale":{"domain":["px,py","pz"],"range":["#1414ee","#ee1414"]},"legend":null}}},
    {"data":{"values":[{}]},"mark":{"type":"rule","strokeDash":[5,4],"color":"#222","strokeWidth":1.2},"encoding":{"x":{"datum":0,"type":"quantitative","axis":null}}},
    {"data":{"values":[{}]},"mark":{"type":"text","align":"left","baseline":"middle","fontSize":14,"fontWeight":"bold","font":"Liberation Serif","color":"black"},"encoding":{"x":{"datum":0.5,"type":"quantitative","axis":null},"y":{"datum":0.8,"type":"quantitative","axis":null},"text":{"value":"O(1) chain"}}}
   ]}
 ]}
]
}
